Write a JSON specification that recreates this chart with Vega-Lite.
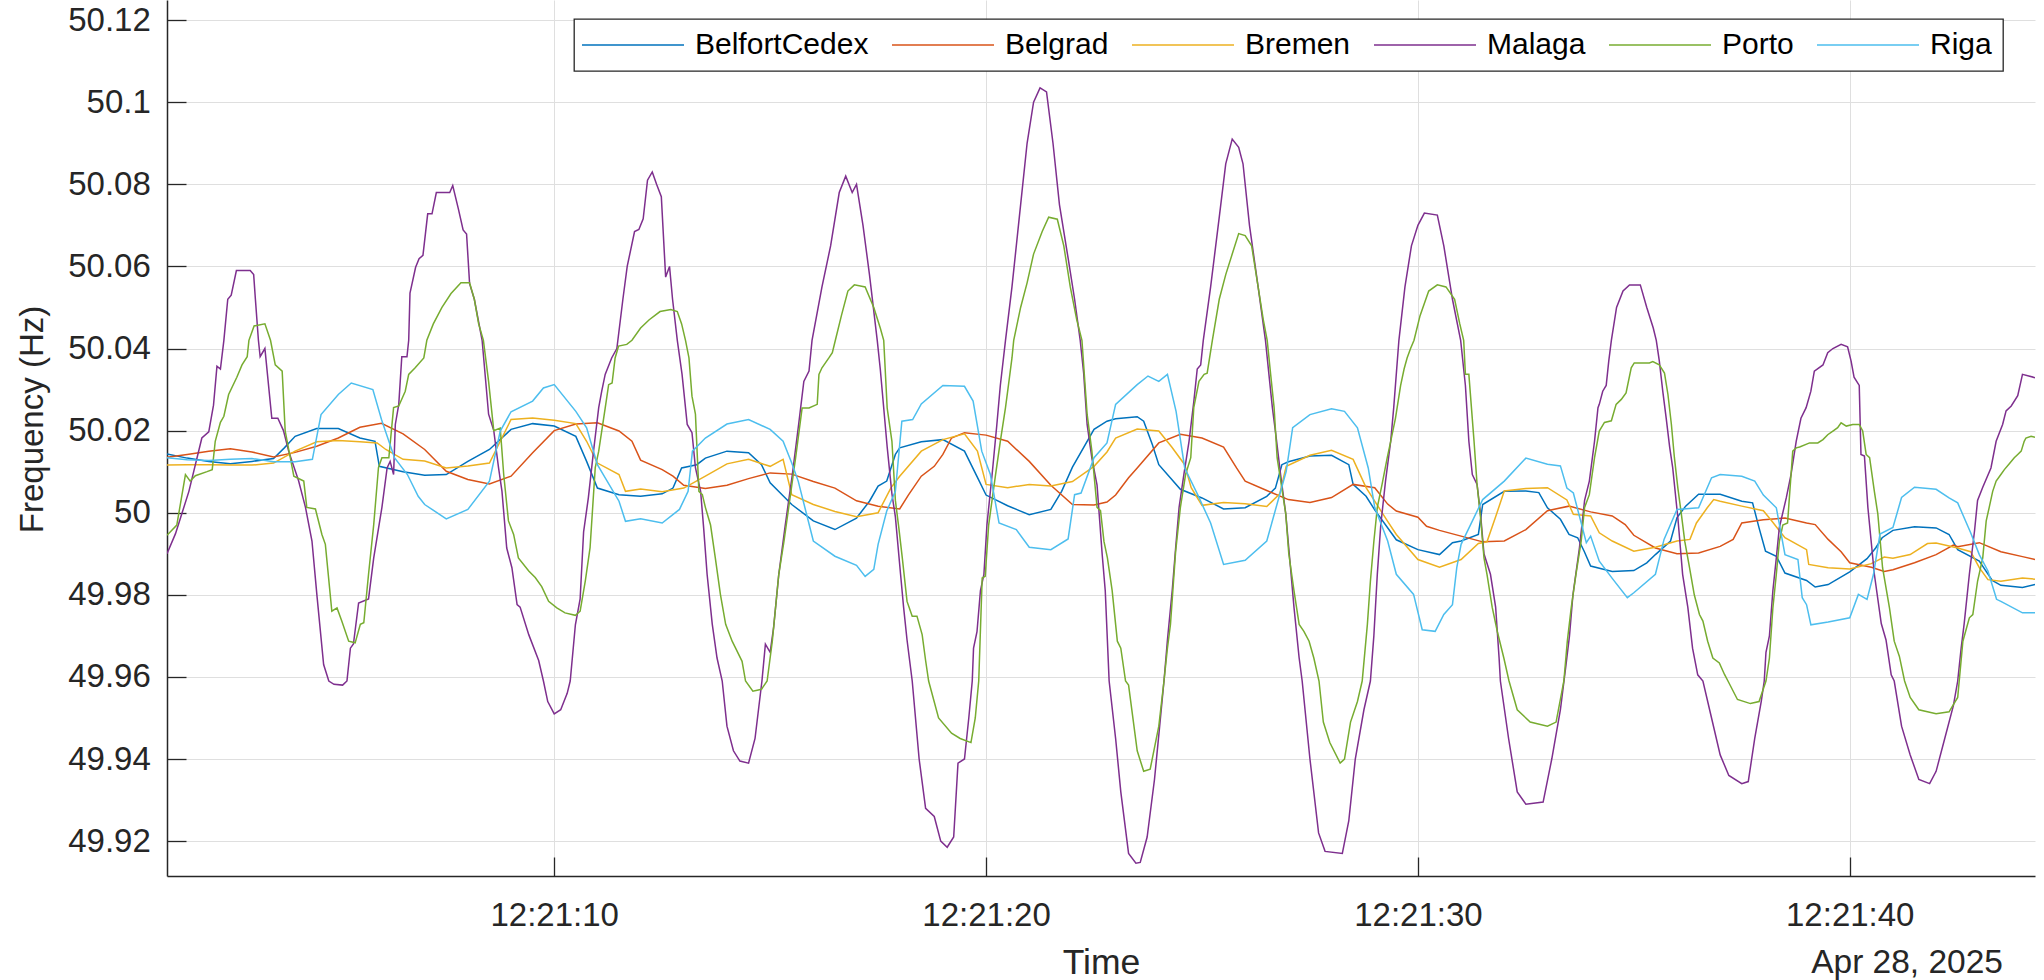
{
"$schema": "https://vega.github.io/schema/vega-lite/v6.json",
"width": 1868, "height": 876,
"autosize": {"type": "none"},
"padding": {"left": 167, "top": 0, "right": 9, "bottom": 104},
"background": "#ffffff",
"title": {"text": "Apr 28, 2025", "orient": "bottom", "anchor": "end", "frame": "group", "fontSize": 33.5, "font": "Liberation Sans", "fontWeight": "normal", "color": "#262626", "baseline": "alphabetic", "offset": -8, "dx": -32},
"data": {"values": [
{"city":"BelfortCedex","time":"2025-04-28T12:21:01.033","freq":50.0143},
{"city":"BelfortCedex","time":"2025-04-28T12:21:01.500","freq":50.0133},
{"city":"BelfortCedex","time":"2025-04-28T12:21:02.000","freq":50.0125},
{"city":"BelfortCedex","time":"2025-04-28T12:21:02.500","freq":50.0119},
{"city":"BelfortCedex","time":"2025-04-28T12:21:03.000","freq":50.0125},
{"city":"BelfortCedex","time":"2025-04-28T12:21:03.500","freq":50.0132},
{"city":"BelfortCedex","time":"2025-04-28T12:21:03.750","freq":50.0158},
{"city":"BelfortCedex","time":"2025-04-28T12:21:04.000","freq":50.0186},
{"city":"BelfortCedex","time":"2025-04-28T12:21:04.500","freq":50.0205},
{"city":"BelfortCedex","time":"2025-04-28T12:21:05.000","freq":50.0205},
{"city":"BelfortCedex","time":"2025-04-28T12:21:05.500","freq":50.0182},
{"city":"BelfortCedex","time":"2025-04-28T12:21:05.850","freq":50.0174},
{"city":"BelfortCedex","time":"2025-04-28T12:21:05.950","freq":50.0113},
{"city":"BelfortCedex","time":"2025-04-28T12:21:06.500","freq":50.0100},
{"city":"BelfortCedex","time":"2025-04-28T12:21:07.000","freq":50.0091},
{"city":"BelfortCedex","time":"2025-04-28T12:21:07.500","freq":50.0093},
{"city":"BelfortCedex","time":"2025-04-28T12:21:08.000","freq":50.0125},
{"city":"BelfortCedex","time":"2025-04-28T12:21:08.500","freq":50.0154},
{"city":"BelfortCedex","time":"2025-04-28T12:21:09.000","freq":50.0203},
{"city":"BelfortCedex","time":"2025-04-28T12:21:09.500","freq":50.0217},
{"city":"BelfortCedex","time":"2025-04-28T12:21:10.000","freq":50.0211},
{"city":"BelfortCedex","time":"2025-04-28T12:21:10.500","freq":50.0186},
{"city":"BelfortCedex","time":"2025-04-28T12:21:10.750","freq":50.0125},
{"city":"BelfortCedex","time":"2025-04-28T12:21:11.000","freq":50.0060},
{"city":"BelfortCedex","time":"2025-04-28T12:21:11.500","freq":50.0044},
{"city":"BelfortCedex","time":"2025-04-28T12:21:12.000","freq":50.0040},
{"city":"BelfortCedex","time":"2025-04-28T12:21:12.500","freq":50.0046},
{"city":"BelfortCedex","time":"2025-04-28T12:21:12.750","freq":50.0060},
{"city":"BelfortCedex","time":"2025-04-28T12:21:12.950","freq":50.0109},
{"city":"BelfortCedex","time":"2025-04-28T12:21:13.300","freq":50.0117},
{"city":"BelfortCedex","time":"2025-04-28T12:21:13.500","freq":50.0133},
{"city":"BelfortCedex","time":"2025-04-28T12:21:14.000","freq":50.0150},
{"city":"BelfortCedex","time":"2025-04-28T12:21:14.500","freq":50.0146},
{"city":"BelfortCedex","time":"2025-04-28T12:21:14.800","freq":50.0117},
{"city":"BelfortCedex","time":"2025-04-28T12:21:15.000","freq":50.0073},
{"city":"BelfortCedex","time":"2025-04-28T12:21:15.500","freq":50.0020},
{"city":"BelfortCedex","time":"2025-04-28T12:21:16.000","freq":49.9980},
{"city":"BelfortCedex","time":"2025-04-28T12:21:16.500","freq":49.9959},
{"city":"BelfortCedex","time":"2025-04-28T12:21:17.000","freq":49.9987},
{"city":"BelfortCedex","time":"2025-04-28T12:21:17.300","freq":50.0028},
{"city":"BelfortCedex","time":"2025-04-28T12:21:17.500","freq":50.0065},
{"city":"BelfortCedex","time":"2025-04-28T12:21:17.700","freq":50.0077},
{"city":"BelfortCedex","time":"2025-04-28T12:21:17.900","freq":50.0142},
{"city":"BelfortCedex","time":"2025-04-28T12:21:18.000","freq":50.0158},
{"city":"BelfortCedex","time":"2025-04-28T12:21:18.500","freq":50.0173},
{"city":"BelfortCedex","time":"2025-04-28T12:21:19.000","freq":50.0178},
{"city":"BelfortCedex","time":"2025-04-28T12:21:19.500","freq":50.0150},
{"city":"BelfortCedex","time":"2025-04-28T12:21:19.800","freq":50.0086},
{"city":"BelfortCedex","time":"2025-04-28T12:21:20.000","freq":50.0043},
{"city":"BelfortCedex","time":"2025-04-28T12:21:20.500","freq":50.0017},
{"city":"BelfortCedex","time":"2025-04-28T12:21:21.000","freq":49.9995},
{"city":"BelfortCedex","time":"2025-04-28T12:21:21.500","freq":50.0008},
{"city":"BelfortCedex","time":"2025-04-28T12:21:21.750","freq":50.0052},
{"city":"BelfortCedex","time":"2025-04-28T12:21:22.000","freq":50.0111},
{"city":"BelfortCedex","time":"2025-04-28T12:21:22.500","freq":50.0203},
{"city":"BelfortCedex","time":"2025-04-28T12:21:22.800","freq":50.0223},
{"city":"BelfortCedex","time":"2025-04-28T12:21:23.000","freq":50.0229},
{"city":"BelfortCedex","time":"2025-04-28T12:21:23.500","freq":50.0234},
{"city":"BelfortCedex","time":"2025-04-28T12:21:23.650","freq":50.0223},
{"city":"BelfortCedex","time":"2025-04-28T12:21:23.850","freq":50.0166},
{"city":"BelfortCedex","time":"2025-04-28T12:21:24.000","freq":50.0117},
{"city":"BelfortCedex","time":"2025-04-28T12:21:24.500","freq":50.0057},
{"city":"BelfortCedex","time":"2025-04-28T12:21:25.000","freq":50.0036},
{"city":"BelfortCedex","time":"2025-04-28T12:21:25.500","freq":50.0009},
{"city":"BelfortCedex","time":"2025-04-28T12:21:26.000","freq":50.0012},
{"city":"BelfortCedex","time":"2025-04-28T12:21:26.500","freq":50.0040},
{"city":"BelfortCedex","time":"2025-04-28T12:21:26.700","freq":50.0060},
{"city":"BelfortCedex","time":"2025-04-28T12:21:26.850","freq":50.0117},
{"city":"BelfortCedex","time":"2025-04-28T12:21:27.000","freq":50.0124},
{"city":"BelfortCedex","time":"2025-04-28T12:21:27.500","freq":50.0138},
{"city":"BelfortCedex","time":"2025-04-28T12:21:28.000","freq":50.0140},
{"city":"BelfortCedex","time":"2025-04-28T12:21:28.400","freq":50.0117},
{"city":"BelfortCedex","time":"2025-04-28T12:21:28.500","freq":50.0069},
{"city":"BelfortCedex","time":"2025-04-28T12:21:28.800","freq":50.0040},
{"city":"BelfortCedex","time":"2025-04-28T12:21:29.000","freq":50.0007},
{"city":"BelfortCedex","time":"2025-04-28T12:21:29.500","freq":49.9934},
{"city":"BelfortCedex","time":"2025-04-28T12:21:30.000","freq":49.9910},
{"city":"BelfortCedex","time":"2025-04-28T12:21:30.500","freq":49.9898},
{"city":"BelfortCedex","time":"2025-04-28T12:21:30.800","freq":49.9927},
{"city":"BelfortCedex","time":"2025-04-28T12:21:31.000","freq":49.9931},
{"city":"BelfortCedex","time":"2025-04-28T12:21:31.400","freq":49.9947},
{"city":"BelfortCedex","time":"2025-04-28T12:21:31.500","freq":50.0020},
{"city":"BelfortCedex","time":"2025-04-28T12:21:32.000","freq":50.0052},
{"city":"BelfortCedex","time":"2025-04-28T12:21:32.500","freq":50.0053},
{"city":"BelfortCedex","time":"2025-04-28T12:21:32.800","freq":50.0049},
{"city":"BelfortCedex","time":"2025-04-28T12:21:33.000","freq":50.0012},
{"city":"BelfortCedex","time":"2025-04-28T12:21:33.300","freq":49.9984},
{"city":"BelfortCedex","time":"2025-04-28T12:21:33.500","freq":49.9947},
{"city":"BelfortCedex","time":"2025-04-28T12:21:33.700","freq":49.9939},
{"city":"BelfortCedex","time":"2025-04-28T12:21:33.850","freq":49.9906},
{"city":"BelfortCedex","time":"2025-04-28T12:21:34.000","freq":49.9870},
{"city":"BelfortCedex","time":"2025-04-28T12:21:34.500","freq":49.9857},
{"city":"BelfortCedex","time":"2025-04-28T12:21:35.000","freq":49.9859},
{"city":"BelfortCedex","time":"2025-04-28T12:21:35.300","freq":49.9878},
{"city":"BelfortCedex","time":"2025-04-28T12:21:35.500","freq":49.9898},
{"city":"BelfortCedex","time":"2025-04-28T12:21:35.850","freq":49.9931},
{"city":"BelfortCedex","time":"2025-04-28T12:21:36.000","freq":49.9988},
{"city":"BelfortCedex","time":"2025-04-28T12:21:36.200","freq":50.0016},
{"city":"BelfortCedex","time":"2025-04-28T12:21:36.500","freq":50.0045},
{"city":"BelfortCedex","time":"2025-04-28T12:21:37.000","freq":50.0045},
{"city":"BelfortCedex","time":"2025-04-28T12:21:37.500","freq":50.0028},
{"city":"BelfortCedex","time":"2025-04-28T12:21:37.750","freq":50.0024},
{"city":"BelfortCedex","time":"2025-04-28T12:21:37.900","freq":49.9963},
{"city":"BelfortCedex","time":"2025-04-28T12:21:38.050","freq":49.9906},
{"city":"BelfortCedex","time":"2025-04-28T12:21:38.300","freq":49.9894},
{"city":"BelfortCedex","time":"2025-04-28T12:21:38.500","freq":49.9853},
{"city":"BelfortCedex","time":"2025-04-28T12:21:39.000","freq":49.9835},
{"city":"BelfortCedex","time":"2025-04-28T12:21:39.200","freq":49.9819},
{"city":"BelfortCedex","time":"2025-04-28T12:21:39.500","freq":49.9825},
{"city":"BelfortCedex","time":"2025-04-28T12:21:40.000","freq":49.9856},
{"city":"BelfortCedex","time":"2025-04-28T12:21:40.400","freq":49.9888},
{"city":"BelfortCedex","time":"2025-04-28T12:21:40.600","freq":49.9914},
{"city":"BelfortCedex","time":"2025-04-28T12:21:40.750","freq":49.9939},
{"city":"BelfortCedex","time":"2025-04-28T12:21:41.000","freq":49.9957},
{"city":"BelfortCedex","time":"2025-04-28T12:21:41.500","freq":49.9966},
{"city":"BelfortCedex","time":"2025-04-28T12:21:42.000","freq":49.9963},
{"city":"BelfortCedex","time":"2025-04-28T12:21:42.300","freq":49.9947},
{"city":"BelfortCedex","time":"2025-04-28T12:21:42.500","freq":49.9910},
{"city":"BelfortCedex","time":"2025-04-28T12:21:43.000","freq":49.9882},
{"city":"BelfortCedex","time":"2025-04-28T12:21:43.300","freq":49.9835},
{"city":"BelfortCedex","time":"2025-04-28T12:21:43.500","freq":49.9823},
{"city":"BelfortCedex","time":"2025-04-28T12:21:44.000","freq":49.9818},
{"city":"BelfortCedex","time":"2025-04-28T12:21:44.290","freq":49.9825},
{"city":"Belgrad","time":"2025-04-28T12:21:01.033","freq":50.0135},
{"city":"Belgrad","time":"2025-04-28T12:21:01.500","freq":50.0142},
{"city":"Belgrad","time":"2025-04-28T12:21:02.000","freq":50.0150},
{"city":"Belgrad","time":"2025-04-28T12:21:02.500","freq":50.0156},
{"city":"Belgrad","time":"2025-04-28T12:21:03.000","freq":50.0148},
{"city":"Belgrad","time":"2025-04-28T12:21:03.500","freq":50.0136},
{"city":"Belgrad","time":"2025-04-28T12:21:04.000","freq":50.0147},
{"city":"Belgrad","time":"2025-04-28T12:21:04.500","freq":50.0162},
{"city":"Belgrad","time":"2025-04-28T12:21:05.000","freq":50.0182},
{"city":"Belgrad","time":"2025-04-28T12:21:05.500","freq":50.0208},
{"city":"Belgrad","time":"2025-04-28T12:21:06.000","freq":50.0218},
{"city":"Belgrad","time":"2025-04-28T12:21:06.500","freq":50.0192},
{"city":"Belgrad","time":"2025-04-28T12:21:07.000","freq":50.0154},
{"city":"Belgrad","time":"2025-04-28T12:21:07.500","freq":50.0101},
{"city":"Belgrad","time":"2025-04-28T12:21:08.000","freq":50.0081},
{"city":"Belgrad","time":"2025-04-28T12:21:08.500","freq":50.0070},
{"city":"Belgrad","time":"2025-04-28T12:21:09.000","freq":50.0089},
{"city":"Belgrad","time":"2025-04-28T12:21:09.500","freq":50.0146},
{"city":"Belgrad","time":"2025-04-28T12:21:10.000","freq":50.0200},
{"city":"Belgrad","time":"2025-04-28T12:21:10.500","freq":50.0216},
{"city":"Belgrad","time":"2025-04-28T12:21:11.000","freq":50.0219},
{"city":"Belgrad","time":"2025-04-28T12:21:11.500","freq":50.0199},
{"city":"Belgrad","time":"2025-04-28T12:21:11.800","freq":50.0174},
{"city":"Belgrad","time":"2025-04-28T12:21:12.000","freq":50.0128},
{"city":"Belgrad","time":"2025-04-28T12:21:12.500","freq":50.0105},
{"city":"Belgrad","time":"2025-04-28T12:21:12.750","freq":50.0089},
{"city":"Belgrad","time":"2025-04-28T12:21:13.000","freq":50.0067},
{"city":"Belgrad","time":"2025-04-28T12:21:13.500","freq":50.0059},
{"city":"Belgrad","time":"2025-04-28T12:21:14.000","freq":50.0067},
{"city":"Belgrad","time":"2025-04-28T12:21:14.500","freq":50.0083},
{"city":"Belgrad","time":"2025-04-28T12:21:15.000","freq":50.0097},
{"city":"Belgrad","time":"2025-04-28T12:21:15.500","freq":50.0094},
{"city":"Belgrad","time":"2025-04-28T12:21:16.000","freq":50.0076},
{"city":"Belgrad","time":"2025-04-28T12:21:16.500","freq":50.0060},
{"city":"Belgrad","time":"2025-04-28T12:21:17.000","freq":50.0029},
{"city":"Belgrad","time":"2025-04-28T12:21:17.500","freq":50.0016},
{"city":"Belgrad","time":"2025-04-28T12:21:18.000","freq":50.0009},
{"city":"Belgrad","time":"2025-04-28T12:21:18.200","freq":50.0043},
{"city":"Belgrad","time":"2025-04-28T12:21:18.500","freq":50.0089},
{"city":"Belgrad","time":"2025-04-28T12:21:18.800","freq":50.0113},
{"city":"Belgrad","time":"2025-04-28T12:21:19.000","freq":50.0142},
{"city":"Belgrad","time":"2025-04-28T12:21:19.200","freq":50.0182},
{"city":"Belgrad","time":"2025-04-28T12:21:19.500","freq":50.0195},
{"city":"Belgrad","time":"2025-04-28T12:21:20.000","freq":50.0189},
{"city":"Belgrad","time":"2025-04-28T12:21:20.500","freq":50.0174},
{"city":"Belgrad","time":"2025-04-28T12:21:21.000","freq":50.0125},
{"city":"Belgrad","time":"2025-04-28T12:21:21.500","freq":50.0067},
{"city":"Belgrad","time":"2025-04-28T12:21:22.000","freq":50.0020},
{"city":"Belgrad","time":"2025-04-28T12:21:22.500","freq":50.0019},
{"city":"Belgrad","time":"2025-04-28T12:21:22.800","freq":50.0026},
{"city":"Belgrad","time":"2025-04-28T12:21:23.000","freq":50.0043},
{"city":"Belgrad","time":"2025-04-28T12:21:23.300","freq":50.0085},
{"city":"Belgrad","time":"2025-04-28T12:21:23.500","freq":50.0109},
{"city":"Belgrad","time":"2025-04-28T12:21:24.000","freq":50.0170},
{"city":"Belgrad","time":"2025-04-28T12:21:24.500","freq":50.0191},
{"city":"Belgrad","time":"2025-04-28T12:21:25.000","freq":50.0182},
{"city":"Belgrad","time":"2025-04-28T12:21:25.500","freq":50.0160},
{"city":"Belgrad","time":"2025-04-28T12:21:25.800","freq":50.0109},
{"city":"Belgrad","time":"2025-04-28T12:21:26.000","freq":50.0077},
{"city":"Belgrad","time":"2025-04-28T12:21:26.500","freq":50.0054},
{"city":"Belgrad","time":"2025-04-28T12:21:27.000","freq":50.0032},
{"city":"Belgrad","time":"2025-04-28T12:21:27.500","freq":50.0025},
{"city":"Belgrad","time":"2025-04-28T12:21:28.000","freq":50.0037},
{"city":"Belgrad","time":"2025-04-28T12:21:28.500","freq":50.0069},
{"city":"Belgrad","time":"2025-04-28T12:21:29.000","freq":50.0061},
{"city":"Belgrad","time":"2025-04-28T12:21:29.300","freq":50.0021},
{"city":"Belgrad","time":"2025-04-28T12:21:29.500","freq":50.0004},
{"city":"Belgrad","time":"2025-04-28T12:21:30.000","freq":49.9989},
{"city":"Belgrad","time":"2025-04-28T12:21:30.200","freq":49.9967},
{"city":"Belgrad","time":"2025-04-28T12:21:30.500","freq":49.9957},
{"city":"Belgrad","time":"2025-04-28T12:21:31.000","freq":49.9943},
{"city":"Belgrad","time":"2025-04-28T12:21:31.500","freq":49.9929},
{"city":"Belgrad","time":"2025-04-28T12:21:32.000","freq":49.9931},
{"city":"Belgrad","time":"2025-04-28T12:21:32.500","freq":49.9959},
{"city":"Belgrad","time":"2025-04-28T12:21:33.000","freq":50.0005},
{"city":"Belgrad","time":"2025-04-28T12:21:33.500","freq":50.0016},
{"city":"Belgrad","time":"2025-04-28T12:21:34.000","freq":50.0002},
{"city":"Belgrad","time":"2025-04-28T12:21:34.500","freq":49.9992},
{"city":"Belgrad","time":"2025-04-28T12:21:34.800","freq":49.9971},
{"city":"Belgrad","time":"2025-04-28T12:21:35.000","freq":49.9945},
{"city":"Belgrad","time":"2025-04-28T12:21:35.500","freq":49.9914},
{"city":"Belgrad","time":"2025-04-28T12:21:36.000","freq":49.9900},
{"city":"Belgrad","time":"2025-04-28T12:21:36.500","freq":49.9902},
{"city":"Belgrad","time":"2025-04-28T12:21:37.000","freq":49.9918},
{"city":"Belgrad","time":"2025-04-28T12:21:37.300","freq":49.9935},
{"city":"Belgrad","time":"2025-04-28T12:21:37.500","freq":49.9975},
{"city":"Belgrad","time":"2025-04-28T12:21:38.000","freq":49.9983},
{"city":"Belgrad","time":"2025-04-28T12:21:38.500","freq":49.9987},
{"city":"Belgrad","time":"2025-04-28T12:21:39.000","freq":49.9975},
{"city":"Belgrad","time":"2025-04-28T12:21:39.200","freq":49.9971},
{"city":"Belgrad","time":"2025-04-28T12:21:39.500","freq":49.9935},
{"city":"Belgrad","time":"2025-04-28T12:21:39.800","freq":49.9905},
{"city":"Belgrad","time":"2025-04-28T12:21:40.000","freq":49.9878},
{"city":"Belgrad","time":"2025-04-28T12:21:40.500","freq":49.9867},
{"city":"Belgrad","time":"2025-04-28T12:21:40.800","freq":49.9857},
{"city":"Belgrad","time":"2025-04-28T12:21:41.000","freq":49.9861},
{"city":"Belgrad","time":"2025-04-28T12:21:41.500","freq":49.9878},
{"city":"Belgrad","time":"2025-04-28T12:21:42.000","freq":49.9898},
{"city":"Belgrad","time":"2025-04-28T12:21:42.400","freq":49.9921},
{"city":"Belgrad","time":"2025-04-28T12:21:42.500","freq":49.9917},
{"city":"Belgrad","time":"2025-04-28T12:21:43.000","freq":49.9927},
{"city":"Belgrad","time":"2025-04-28T12:21:43.500","freq":49.9905},
{"city":"Belgrad","time":"2025-04-28T12:21:44.000","freq":49.9893},
{"city":"Belgrad","time":"2025-04-28T12:21:44.290","freq":49.9886},
{"city":"Bremen","time":"2025-04-28T12:21:01.033","freq":50.0116},
{"city":"Bremen","time":"2025-04-28T12:21:01.500","freq":50.0117},
{"city":"Bremen","time":"2025-04-28T12:21:02.000","freq":50.0117},
{"city":"Bremen","time":"2025-04-28T12:21:02.500","freq":50.0116},
{"city":"Bremen","time":"2025-04-28T12:21:03.000","freq":50.0116},
{"city":"Bremen","time":"2025-04-28T12:21:03.500","freq":50.0121},
{"city":"Bremen","time":"2025-04-28T12:21:04.000","freq":50.0150},
{"city":"Bremen","time":"2025-04-28T12:21:04.500","freq":50.0173},
{"city":"Bremen","time":"2025-04-28T12:21:05.000","freq":50.0176},
{"city":"Bremen","time":"2025-04-28T12:21:05.500","freq":50.0173},
{"city":"Bremen","time":"2025-04-28T12:21:05.900","freq":50.0170},
{"city":"Bremen","time":"2025-04-28T12:21:06.100","freq":50.0154},
{"city":"Bremen","time":"2025-04-28T12:21:06.500","freq":50.0130},
{"city":"Bremen","time":"2025-04-28T12:21:07.000","freq":50.0126},
{"city":"Bremen","time":"2025-04-28T12:21:07.500","freq":50.0109},
{"city":"Bremen","time":"2025-04-28T12:21:08.000","freq":50.0114},
{"city":"Bremen","time":"2025-04-28T12:21:08.500","freq":50.0121},
{"city":"Bremen","time":"2025-04-28T12:21:08.750","freq":50.0174},
{"city":"Bremen","time":"2025-04-28T12:21:09.000","freq":50.0227},
{"city":"Bremen","time":"2025-04-28T12:21:09.500","freq":50.0231},
{"city":"Bremen","time":"2025-04-28T12:21:10.000","freq":50.0225},
{"city":"Bremen","time":"2025-04-28T12:21:10.500","freq":50.0217},
{"city":"Bremen","time":"2025-04-28T12:21:10.750","freq":50.0174},
{"city":"Bremen","time":"2025-04-28T12:21:11.000","freq":50.0121},
{"city":"Bremen","time":"2025-04-28T12:21:11.500","freq":50.0093},
{"city":"Bremen","time":"2025-04-28T12:21:11.650","freq":50.0052},
{"city":"Bremen","time":"2025-04-28T12:21:12.000","freq":50.0058},
{"city":"Bremen","time":"2025-04-28T12:21:12.500","freq":50.0051},
{"city":"Bremen","time":"2025-04-28T12:21:13.000","freq":50.0060},
{"city":"Bremen","time":"2025-04-28T12:21:13.500","freq":50.0089},
{"city":"Bremen","time":"2025-04-28T12:21:14.000","freq":50.0119},
{"city":"Bremen","time":"2025-04-28T12:21:14.500","freq":50.0130},
{"city":"Bremen","time":"2025-04-28T12:21:15.000","freq":50.0113},
{"city":"Bremen","time":"2025-04-28T12:21:15.300","freq":50.0130},
{"city":"Bremen","time":"2025-04-28T12:21:15.500","freq":50.0044},
{"city":"Bremen","time":"2025-04-28T12:21:16.000","freq":50.0020},
{"city":"Bremen","time":"2025-04-28T12:21:16.500","freq":50.0003},
{"city":"Bremen","time":"2025-04-28T12:21:17.000","freq":49.9990},
{"city":"Bremen","time":"2025-04-28T12:21:17.500","freq":50.0000},
{"city":"Bremen","time":"2025-04-28T12:21:17.800","freq":50.0061},
{"city":"Bremen","time":"2025-04-28T12:21:18.000","freq":50.0089},
{"city":"Bremen","time":"2025-04-28T12:21:18.500","freq":50.0150},
{"city":"Bremen","time":"2025-04-28T12:21:19.000","freq":50.0178},
{"city":"Bremen","time":"2025-04-28T12:21:19.500","freq":50.0192},
{"city":"Bremen","time":"2025-04-28T12:21:19.800","freq":50.0150},
{"city":"Bremen","time":"2025-04-28T12:21:20.000","freq":50.0069},
{"city":"Bremen","time":"2025-04-28T12:21:20.500","freq":50.0061},
{"city":"Bremen","time":"2025-04-28T12:21:21.000","freq":50.0069},
{"city":"Bremen","time":"2025-04-28T12:21:21.500","freq":50.0065},
{"city":"Bremen","time":"2025-04-28T12:21:22.000","freq":50.0076},
{"city":"Bremen","time":"2025-04-28T12:21:22.500","freq":50.0113},
{"city":"Bremen","time":"2025-04-28T12:21:22.800","freq":50.0148},
{"city":"Bremen","time":"2025-04-28T12:21:23.000","freq":50.0182},
{"city":"Bremen","time":"2025-04-28T12:21:23.500","freq":50.0204},
{"city":"Bremen","time":"2025-04-28T12:21:24.000","freq":50.0199},
{"city":"Bremen","time":"2025-04-28T12:21:24.300","freq":50.0160},
{"city":"Bremen","time":"2025-04-28T12:21:24.600","freq":50.0117},
{"city":"Bremen","time":"2025-04-28T12:21:24.750","freq":50.0061},
{"city":"Bremen","time":"2025-04-28T12:21:25.000","freq":50.0018},
{"city":"Bremen","time":"2025-04-28T12:21:25.500","freq":50.0025},
{"city":"Bremen","time":"2025-04-28T12:21:26.000","freq":50.0022},
{"city":"Bremen","time":"2025-04-28T12:21:26.500","freq":50.0015},
{"city":"Bremen","time":"2025-04-28T12:21:26.800","freq":50.0046},
{"city":"Bremen","time":"2025-04-28T12:21:26.950","freq":50.0113},
{"city":"Bremen","time":"2025-04-28T12:21:27.500","freq":50.0140},
{"city":"Bremen","time":"2025-04-28T12:21:28.000","freq":50.0152},
{"city":"Bremen","time":"2025-04-28T12:21:28.500","freq":50.0130},
{"city":"Bremen","time":"2025-04-28T12:21:28.800","freq":50.0061},
{"city":"Bremen","time":"2025-04-28T12:21:29.000","freq":50.0028},
{"city":"Bremen","time":"2025-04-28T12:21:29.300","freq":49.9979},
{"city":"Bremen","time":"2025-04-28T12:21:29.500","freq":49.9947},
{"city":"Bremen","time":"2025-04-28T12:21:30.000","freq":49.9886},
{"city":"Bremen","time":"2025-04-28T12:21:30.500","freq":49.9867},
{"city":"Bremen","time":"2025-04-28T12:21:31.000","freq":49.9886},
{"city":"Bremen","time":"2025-04-28T12:21:31.400","freq":49.9925},
{"city":"Bremen","time":"2025-04-28T12:21:31.600","freq":49.9929},
{"city":"Bremen","time":"2025-04-28T12:21:31.800","freq":49.9990},
{"city":"Bremen","time":"2025-04-28T12:21:32.000","freq":50.0053},
{"city":"Bremen","time":"2025-04-28T12:21:32.500","freq":50.0059},
{"city":"Bremen","time":"2025-04-28T12:21:33.000","freq":50.0061},
{"city":"Bremen","time":"2025-04-28T12:21:33.450","freq":50.0031},
{"city":"Bremen","time":"2025-04-28T12:21:33.600","freq":49.9996},
{"city":"Bremen","time":"2025-04-28T12:21:34.000","freq":49.9992},
{"city":"Bremen","time":"2025-04-28T12:21:34.200","freq":49.9951},
{"city":"Bremen","time":"2025-04-28T12:21:34.500","freq":49.9931},
{"city":"Bremen","time":"2025-04-28T12:21:35.000","freq":49.9906},
{"city":"Bremen","time":"2025-04-28T12:21:35.500","freq":49.9916},
{"city":"Bremen","time":"2025-04-28T12:21:36.000","freq":49.9931},
{"city":"Bremen","time":"2025-04-28T12:21:36.300","freq":49.9935},
{"city":"Bremen","time":"2025-04-28T12:21:36.450","freq":49.9975},
{"city":"Bremen","time":"2025-04-28T12:21:36.700","freq":50.0012},
{"city":"Bremen","time":"2025-04-28T12:21:36.850","freq":50.0032},
{"city":"Bremen","time":"2025-04-28T12:21:37.000","freq":50.0028},
{"city":"Bremen","time":"2025-04-28T12:21:37.500","freq":50.0016},
{"city":"Bremen","time":"2025-04-28T12:21:38.000","freq":50.0005},
{"city":"Bremen","time":"2025-04-28T12:21:38.200","freq":49.9979},
{"city":"Bremen","time":"2025-04-28T12:21:38.500","freq":49.9939},
{"city":"Bremen","time":"2025-04-28T12:21:39.000","freq":49.9910},
{"city":"Bremen","time":"2025-04-28T12:21:39.050","freq":49.9874},
{"city":"Bremen","time":"2025-04-28T12:21:39.500","freq":49.9866},
{"city":"Bremen","time":"2025-04-28T12:21:40.000","freq":49.9863},
{"city":"Bremen","time":"2025-04-28T12:21:40.500","freq":49.9876},
{"city":"Bremen","time":"2025-04-28T12:21:40.800","freq":49.9892},
{"city":"Bremen","time":"2025-04-28T12:21:41.000","freq":49.9889},
{"city":"Bremen","time":"2025-04-28T12:21:41.400","freq":49.9898},
{"city":"Bremen","time":"2025-04-28T12:21:41.800","freq":49.9925},
{"city":"Bremen","time":"2025-04-28T12:21:42.000","freq":49.9926},
{"city":"Bremen","time":"2025-04-28T12:21:42.500","freq":49.9914},
{"city":"Bremen","time":"2025-04-28T12:21:42.800","freq":49.9905},
{"city":"Bremen","time":"2025-04-28T12:21:43.000","freq":49.9866},
{"city":"Bremen","time":"2025-04-28T12:21:43.200","freq":49.9837},
{"city":"Bremen","time":"2025-04-28T12:21:43.500","freq":49.9833},
{"city":"Bremen","time":"2025-04-28T12:21:44.000","freq":49.9841},
{"city":"Bremen","time":"2025-04-28T12:21:44.290","freq":49.9838},
{"city":"Malaga","time":"2025-04-28T12:21:01.033","freq":49.9900},
{"city":"Malaga","time":"2025-04-28T12:21:01.230","freq":49.9949},
{"city":"Malaga","time":"2025-04-28T12:21:01.540","freq":50.0052},
{"city":"Malaga","time":"2025-04-28T12:21:01.840","freq":50.0182},
{"city":"Malaga","time":"2025-04-28T12:21:02.000","freq":50.0197},
{"city":"Malaga","time":"2025-04-28T12:21:02.110","freq":50.0262},
{"city":"Malaga","time":"2025-04-28T12:21:02.190","freq":50.0357},
{"city":"Malaga","time":"2025-04-28T12:21:02.270","freq":50.0350},
{"city":"Malaga","time":"2025-04-28T12:21:02.350","freq":50.0420},
{"city":"Malaga","time":"2025-04-28T12:21:02.440","freq":50.0520},
{"city":"Malaga","time":"2025-04-28T12:21:02.520","freq":50.0530},
{"city":"Malaga","time":"2025-04-28T12:21:02.640","freq":50.0590},
{"city":"Malaga","time":"2025-04-28T12:21:02.960","freq":50.0590},
{"city":"Malaga","time":"2025-04-28T12:21:03.040","freq":50.0580},
{"city":"Malaga","time":"2025-04-28T12:21:03.080","freq":50.0520},
{"city":"Malaga","time":"2025-04-28T12:21:03.150","freq":50.0420},
{"city":"Malaga","time":"2025-04-28T12:21:03.190","freq":50.0380},
{"city":"Malaga","time":"2025-04-28T12:21:03.300","freq":50.0400},
{"city":"Malaga","time":"2025-04-28T12:21:03.460","freq":50.0230},
{"city":"Malaga","time":"2025-04-28T12:21:03.600","freq":50.0230},
{"city":"Malaga","time":"2025-04-28T12:21:03.730","freq":50.0200},
{"city":"Malaga","time":"2025-04-28T12:21:03.850","freq":50.0150},
{"city":"Malaga","time":"2025-04-28T12:21:04.080","freq":50.0078},
{"city":"Malaga","time":"2025-04-28T12:21:04.240","freq":50.0013},
{"city":"Malaga","time":"2025-04-28T12:21:04.390","freq":49.9931},
{"city":"Malaga","time":"2025-04-28T12:21:04.510","freq":49.9793},
{"city":"Malaga","time":"2025-04-28T12:21:04.660","freq":49.9630},
{"city":"Malaga","time":"2025-04-28T12:21:04.780","freq":49.9590},
{"city":"Malaga","time":"2025-04-28T12:21:04.900","freq":49.9582},
{"city":"Malaga","time":"2025-04-28T12:21:05.100","freq":49.9580},
{"city":"Malaga","time":"2025-04-28T12:21:05.200","freq":49.9590},
{"city":"Malaga","time":"2025-04-28T12:21:05.280","freq":49.9670},
{"city":"Malaga","time":"2025-04-28T12:21:05.350","freq":49.9680},
{"city":"Malaga","time":"2025-04-28T12:21:05.470","freq":49.9780},
{"city":"Malaga","time":"2025-04-28T12:21:05.700","freq":49.9790},
{"city":"Malaga","time":"2025-04-28T12:21:05.820","freq":49.9890},
{"city":"Malaga","time":"2025-04-28T12:21:06.010","freq":50.0013},
{"city":"Malaga","time":"2025-04-28T12:21:06.130","freq":50.0109},
{"city":"Malaga","time":"2025-04-28T12:21:06.200","freq":50.0125},
{"city":"Malaga","time":"2025-04-28T12:21:06.280","freq":50.0093},
{"city":"Malaga","time":"2025-04-28T12:21:06.320","freq":50.0215},
{"city":"Malaga","time":"2025-04-28T12:21:06.400","freq":50.0264},
{"city":"Malaga","time":"2025-04-28T12:21:06.470","freq":50.0380},
{"city":"Malaga","time":"2025-04-28T12:21:06.590","freq":50.0380},
{"city":"Malaga","time":"2025-04-28T12:21:06.630","freq":50.0420},
{"city":"Malaga","time":"2025-04-28T12:21:06.660","freq":50.0535},
{"city":"Malaga","time":"2025-04-28T12:21:06.790","freq":50.0598},
{"city":"Malaga","time":"2025-04-28T12:21:06.870","freq":50.0619},
{"city":"Malaga","time":"2025-04-28T12:21:06.960","freq":50.0627},
{"city":"Malaga","time":"2025-04-28T12:21:07.070","freq":50.0728},
{"city":"Malaga","time":"2025-04-28T12:21:07.170","freq":50.0728},
{"city":"Malaga","time":"2025-04-28T12:21:07.270","freq":50.0780},
{"city":"Malaga","time":"2025-04-28T12:21:07.580","freq":50.0780},
{"city":"Malaga","time":"2025-04-28T12:21:07.650","freq":50.0797},
{"city":"Malaga","time":"2025-04-28T12:21:07.780","freq":50.0740},
{"city":"Malaga","time":"2025-04-28T12:21:07.890","freq":50.0689},
{"city":"Malaga","time":"2025-04-28T12:21:07.970","freq":50.0679},
{"city":"Malaga","time":"2025-04-28T12:21:08.040","freq":50.0558},
{"city":"Malaga","time":"2025-04-28T12:21:08.150","freq":50.0520},
{"city":"Malaga","time":"2025-04-28T12:21:08.330","freq":50.0420},
{"city":"Malaga","time":"2025-04-28T12:21:08.480","freq":50.0240},
{"city":"Malaga","time":"2025-04-28T12:21:08.600","freq":50.0200},
{"city":"Malaga","time":"2025-04-28T12:21:08.710","freq":50.0110},
{"city":"Malaga","time":"2025-04-28T12:21:08.790","freq":50.0052},
{"city":"Malaga","time":"2025-04-28T12:21:08.900","freq":49.9914},
{"city":"Malaga","time":"2025-04-28T12:21:09.020","freq":49.9866},
{"city":"Malaga","time":"2025-04-28T12:21:09.140","freq":49.9776},
{"city":"Malaga","time":"2025-04-28T12:21:09.210","freq":49.9770},
{"city":"Malaga","time":"2025-04-28T12:21:09.410","freq":49.9703},
{"city":"Malaga","time":"2025-04-28T12:21:09.640","freq":49.9640},
{"city":"Malaga","time":"2025-04-28T12:21:09.750","freq":49.9590},
{"city":"Malaga","time":"2025-04-28T12:21:09.850","freq":49.9540},
{"city":"Malaga","time":"2025-04-28T12:21:10.000","freq":49.9510},
{"city":"Malaga","time":"2025-04-28T12:21:10.150","freq":49.9520},
{"city":"Malaga","time":"2025-04-28T12:21:10.300","freq":49.9560},
{"city":"Malaga","time":"2025-04-28T12:21:10.370","freq":49.9590},
{"city":"Malaga","time":"2025-04-28T12:21:10.490","freq":49.9727},
{"city":"Malaga","time":"2025-04-28T12:21:10.600","freq":49.9790},
{"city":"Malaga","time":"2025-04-28T12:21:10.680","freq":49.9953},
{"city":"Malaga","time":"2025-04-28T12:21:10.790","freq":50.0036},
{"city":"Malaga","time":"2025-04-28T12:21:10.910","freq":50.0150},
{"city":"Malaga","time":"2025-04-28T12:21:11.030","freq":50.0256},
{"city":"Malaga","time":"2025-04-28T12:21:11.100","freq":50.0296},
{"city":"Malaga","time":"2025-04-28T12:21:11.180","freq":50.0337},
{"city":"Malaga","time":"2025-04-28T12:21:11.330","freq":50.0377},
{"city":"Malaga","time":"2025-04-28T12:21:11.450","freq":50.0400},
{"city":"Malaga","time":"2025-04-28T12:21:11.590","freq":50.0520},
{"city":"Malaga","time":"2025-04-28T12:21:11.690","freq":50.0600},
{"city":"Malaga","time":"2025-04-28T12:21:11.860","freq":50.0685},
{"city":"Malaga","time":"2025-04-28T12:21:11.960","freq":50.0690},
{"city":"Malaga","time":"2025-04-28T12:21:12.060","freq":50.0716},
{"city":"Malaga","time":"2025-04-28T12:21:12.160","freq":50.0810},
{"city":"Malaga","time":"2025-04-28T12:21:12.270","freq":50.0830},
{"city":"Malaga","time":"2025-04-28T12:21:12.370","freq":50.0800},
{"city":"Malaga","time":"2025-04-28T12:21:12.480","freq":50.0770},
{"city":"Malaga","time":"2025-04-28T12:21:12.580","freq":50.0574},
{"city":"Malaga","time":"2025-04-28T12:21:12.670","freq":50.0600},
{"city":"Malaga","time":"2025-04-28T12:21:12.740","freq":50.0520},
{"city":"Malaga","time":"2025-04-28T12:21:12.850","freq":50.0420},
{"city":"Malaga","time":"2025-04-28T12:21:12.960","freq":50.0337},
{"city":"Malaga","time":"2025-04-28T12:21:13.080","freq":50.0215},
{"city":"Malaga","time":"2025-04-28T12:21:13.190","freq":50.0195},
{"city":"Malaga","time":"2025-04-28T12:21:13.270","freq":50.0110},
{"city":"Malaga","time":"2025-04-28T12:21:13.390","freq":50.0052},
{"city":"Malaga","time":"2025-04-28T12:21:13.460","freq":49.9963},
{"city":"Malaga","time":"2025-04-28T12:21:13.540","freq":49.9850},
{"city":"Malaga","time":"2025-04-28T12:21:13.660","freq":49.9728},
{"city":"Malaga","time":"2025-04-28T12:21:13.770","freq":49.9646},
{"city":"Malaga","time":"2025-04-28T12:21:13.890","freq":49.9590},
{"city":"Malaga","time":"2025-04-28T12:21:14.000","freq":49.9480},
{"city":"Malaga","time":"2025-04-28T12:21:14.150","freq":49.9420},
{"city":"Malaga","time":"2025-04-28T12:21:14.300","freq":49.9395},
{"city":"Malaga","time":"2025-04-28T12:21:14.500","freq":49.9390},
{"city":"Malaga","time":"2025-04-28T12:21:14.650","freq":49.9450},
{"city":"Malaga","time":"2025-04-28T12:21:14.810","freq":49.9590},
{"city":"Malaga","time":"2025-04-28T12:21:14.890","freq":49.9680},
{"city":"Malaga","time":"2025-04-28T12:21:15.000","freq":49.9660},
{"city":"Malaga","time":"2025-04-28T12:21:15.080","freq":49.9720},
{"city":"Malaga","time":"2025-04-28T12:21:15.200","freq":49.9850},
{"city":"Malaga","time":"2025-04-28T12:21:15.350","freq":49.9970},
{"city":"Malaga","time":"2025-04-28T12:21:15.510","freq":50.0090},
{"city":"Malaga","time":"2025-04-28T12:21:15.660","freq":50.0215},
{"city":"Malaga","time":"2025-04-28T12:21:15.780","freq":50.0320},
{"city":"Malaga","time":"2025-04-28T12:21:15.900","freq":50.0345},
{"city":"Malaga","time":"2025-04-28T12:21:15.970","freq":50.0420},
{"city":"Malaga","time":"2025-04-28T12:21:16.200","freq":50.0550},
{"city":"Malaga","time":"2025-04-28T12:21:16.400","freq":50.0650},
{"city":"Malaga","time":"2025-04-28T12:21:16.600","freq":50.0780},
{"city":"Malaga","time":"2025-04-28T12:21:16.750","freq":50.0820},
{"city":"Malaga","time":"2025-04-28T12:21:16.900","freq":50.0780},
{"city":"Malaga","time":"2025-04-28T12:21:17.000","freq":50.0800},
{"city":"Malaga","time":"2025-04-28T12:21:17.150","freq":50.0700},
{"city":"Malaga","time":"2025-04-28T12:21:17.300","freq":50.0580},
{"city":"Malaga","time":"2025-04-28T12:21:17.480","freq":50.0420},
{"city":"Malaga","time":"2025-04-28T12:21:17.550","freq":50.0350},
{"city":"Malaga","time":"2025-04-28T12:21:17.630","freq":50.0255},
{"city":"Malaga","time":"2025-04-28T12:21:17.710","freq":50.0160},
{"city":"Malaga","time":"2025-04-28T12:21:17.820","freq":50.0046},
{"city":"Malaga","time":"2025-04-28T12:21:17.900","freq":49.9990},
{"city":"Malaga","time":"2025-04-28T12:21:18.020","freq":49.9850},
{"city":"Malaga","time":"2025-04-28T12:21:18.090","freq":49.9770},
{"city":"Malaga","time":"2025-04-28T12:21:18.170","freq":49.9690},
{"city":"Malaga","time":"2025-04-28T12:21:18.290","freq":49.9590},
{"city":"Malaga","time":"2025-04-28T12:21:18.450","freq":49.9400},
{"city":"Malaga","time":"2025-04-28T12:21:18.600","freq":49.9280},
{"city":"Malaga","time":"2025-04-28T12:21:18.800","freq":49.9260},
{"city":"Malaga","time":"2025-04-28T12:21:18.950","freq":49.9200},
{"city":"Malaga","time":"2025-04-28T12:21:19.100","freq":49.9185},
{"city":"Malaga","time":"2025-04-28T12:21:19.250","freq":49.9210},
{"city":"Malaga","time":"2025-04-28T12:21:19.350","freq":49.9390},
{"city":"Malaga","time":"2025-04-28T12:21:19.500","freq":49.9400},
{"city":"Malaga","time":"2025-04-28T12:21:19.600","freq":49.9500},
{"city":"Malaga","time":"2025-04-28T12:21:19.680","freq":49.9590},
{"city":"Malaga","time":"2025-04-28T12:21:19.710","freq":49.9670},
{"city":"Malaga","time":"2025-04-28T12:21:19.790","freq":49.9710},
{"city":"Malaga","time":"2025-04-28T12:21:19.870","freq":49.9810},
{"city":"Malaga","time":"2025-04-28T12:21:19.950","freq":49.9850},
{"city":"Malaga","time":"2025-04-28T12:21:20.020","freq":49.9970},
{"city":"Malaga","time":"2025-04-28T12:21:20.140","freq":50.0093},
{"city":"Malaga","time":"2025-04-28T12:21:20.250","freq":50.0215},
{"city":"Malaga","time":"2025-04-28T12:21:20.330","freq":50.0310},
{"city":"Malaga","time":"2025-04-28T12:21:20.450","freq":50.0420},
{"city":"Malaga","time":"2025-04-28T12:21:20.600","freq":50.0550},
{"city":"Malaga","time":"2025-04-28T12:21:20.800","freq":50.0750},
{"city":"Malaga","time":"2025-04-28T12:21:20.950","freq":50.0900},
{"city":"Malaga","time":"2025-04-28T12:21:21.100","freq":50.1000},
{"city":"Malaga","time":"2025-04-28T12:21:21.250","freq":50.1035},
{"city":"Malaga","time":"2025-04-28T12:21:21.400","freq":50.1025},
{"city":"Malaga","time":"2025-04-28T12:21:21.550","freq":50.0900},
{"city":"Malaga","time":"2025-04-28T12:21:21.700","freq":50.0750},
{"city":"Malaga","time":"2025-04-28T12:21:21.900","freq":50.0620},
{"city":"Malaga","time":"2025-04-28T12:21:22.050","freq":50.0520},
{"city":"Malaga","time":"2025-04-28T12:21:22.180","freq":50.0420},
{"city":"Malaga","time":"2025-04-28T12:21:22.260","freq":50.0340},
{"city":"Malaga","time":"2025-04-28T12:21:22.340","freq":50.0215},
{"city":"Malaga","time":"2025-04-28T12:21:22.450","freq":50.0133},
{"city":"Malaga","time":"2025-04-28T12:21:22.570","freq":50.0067},
{"city":"Malaga","time":"2025-04-28T12:21:22.690","freq":49.9897},
{"city":"Malaga","time":"2025-04-28T12:21:22.760","freq":49.9810},
{"city":"Malaga","time":"2025-04-28T12:21:22.850","freq":49.9590},
{"city":"Malaga","time":"2025-04-28T12:21:23.000","freq":49.9450},
{"city":"Malaga","time":"2025-04-28T12:21:23.120","freq":49.9320},
{"city":"Malaga","time":"2025-04-28T12:21:23.300","freq":49.9170},
{"city":"Malaga","time":"2025-04-28T12:21:23.470","freq":49.9146},
{"city":"Malaga","time":"2025-04-28T12:21:23.570","freq":49.9148},
{"city":"Malaga","time":"2025-04-28T12:21:23.730","freq":49.9210},
{"city":"Malaga","time":"2025-04-28T12:21:23.900","freq":49.9350},
{"city":"Malaga","time":"2025-04-28T12:21:24.020","freq":49.9480},
{"city":"Malaga","time":"2025-04-28T12:21:24.120","freq":49.9590},
{"city":"Malaga","time":"2025-04-28T12:21:24.200","freq":49.9690},
{"city":"Malaga","time":"2025-04-28T12:21:24.310","freq":49.9810},
{"city":"Malaga","time":"2025-04-28T12:21:24.390","freq":49.9914},
{"city":"Malaga","time":"2025-04-28T12:21:24.470","freq":50.0013},
{"city":"Malaga","time":"2025-04-28T12:21:24.580","freq":50.0093},
{"city":"Malaga","time":"2025-04-28T12:21:24.700","freq":50.0174},
{"city":"Malaga","time":"2025-04-28T12:21:24.810","freq":50.0270},
{"city":"Malaga","time":"2025-04-28T12:21:24.890","freq":50.0350},
{"city":"Malaga","time":"2025-04-28T12:21:24.970","freq":50.0360},
{"city":"Malaga","time":"2025-04-28T12:21:25.030","freq":50.0420},
{"city":"Malaga","time":"2025-04-28T12:21:25.200","freq":50.0550},
{"city":"Malaga","time":"2025-04-28T12:21:25.400","freq":50.0720},
{"city":"Malaga","time":"2025-04-28T12:21:25.550","freq":50.0850},
{"city":"Malaga","time":"2025-04-28T12:21:25.700","freq":50.0910},
{"city":"Malaga","time":"2025-04-28T12:21:25.850","freq":50.0890},
{"city":"Malaga","time":"2025-04-28T12:21:25.950","freq":50.0850},
{"city":"Malaga","time":"2025-04-28T12:21:26.100","freq":50.0700},
{"city":"Malaga","time":"2025-04-28T12:21:26.300","freq":50.0550},
{"city":"Malaga","time":"2025-04-28T12:21:26.470","freq":50.0420},
{"city":"Malaga","time":"2025-04-28T12:21:26.550","freq":50.0337},
{"city":"Malaga","time":"2025-04-28T12:21:26.630","freq":50.0256},
{"city":"Malaga","time":"2025-04-28T12:21:26.710","freq":50.0190},
{"city":"Malaga","time":"2025-04-28T12:21:26.820","freq":50.0093},
{"city":"Malaga","time":"2025-04-28T12:21:26.940","freq":49.9997},
{"city":"Malaga","time":"2025-04-28T12:21:27.050","freq":49.9866},
{"city":"Malaga","time":"2025-04-28T12:21:27.130","freq":49.9770},
{"city":"Malaga","time":"2025-04-28T12:21:27.250","freq":49.9646},
{"city":"Malaga","time":"2025-04-28T12:21:27.320","freq":49.9590},
{"city":"Malaga","time":"2025-04-28T12:21:27.500","freq":49.9400},
{"city":"Malaga","time":"2025-04-28T12:21:27.700","freq":49.9220},
{"city":"Malaga","time":"2025-04-28T12:21:27.850","freq":49.9175},
{"city":"Malaga","time":"2025-04-28T12:21:28.250","freq":49.9170},
{"city":"Malaga","time":"2025-04-28T12:21:28.400","freq":49.9250},
{"city":"Malaga","time":"2025-04-28T12:21:28.550","freq":49.9400},
{"city":"Malaga","time":"2025-04-28T12:21:28.750","freq":49.9520},
{"city":"Malaga","time":"2025-04-28T12:21:28.900","freq":49.9590},
{"city":"Malaga","time":"2025-04-28T12:21:28.980","freq":49.9700},
{"city":"Malaga","time":"2025-04-28T12:21:29.060","freq":49.9850},
{"city":"Malaga","time":"2025-04-28T12:21:29.140","freq":49.9970},
{"city":"Malaga","time":"2025-04-28T12:21:29.250","freq":50.0077},
{"city":"Malaga","time":"2025-04-28T12:21:29.370","freq":50.0174},
{"city":"Malaga","time":"2025-04-28T12:21:29.440","freq":50.0256},
{"city":"Malaga","time":"2025-04-28T12:21:29.560","freq":50.0420},
{"city":"Malaga","time":"2025-04-28T12:21:29.700","freq":50.0550},
{"city":"Malaga","time":"2025-04-28T12:21:29.850","freq":50.0650},
{"city":"Malaga","time":"2025-04-28T12:21:30.000","freq":50.0700},
{"city":"Malaga","time":"2025-04-28T12:21:30.150","freq":50.0730},
{"city":"Malaga","time":"2025-04-28T12:21:30.450","freq":50.0725},
{"city":"Malaga","time":"2025-04-28T12:21:30.600","freq":50.0650},
{"city":"Malaga","time":"2025-04-28T12:21:30.800","freq":50.0520},
{"city":"Malaga","time":"2025-04-28T12:21:30.990","freq":50.0420},
{"city":"Malaga","time":"2025-04-28T12:21:31.100","freq":50.0310},
{"city":"Malaga","time":"2025-04-28T12:21:31.180","freq":50.0174},
{"city":"Malaga","time":"2025-04-28T12:21:31.260","freq":50.0093},
{"city":"Malaga","time":"2025-04-28T12:21:31.370","freq":50.0069},
{"city":"Malaga","time":"2025-04-28T12:21:31.450","freq":49.9997},
{"city":"Malaga","time":"2025-04-28T12:21:31.530","freq":49.9900},
{"city":"Malaga","time":"2025-04-28T12:21:31.680","freq":49.9850},
{"city":"Malaga","time":"2025-04-28T12:21:31.800","freq":49.9770},
{"city":"Malaga","time":"2025-04-28T12:21:31.880","freq":49.9646},
{"city":"Malaga","time":"2025-04-28T12:21:31.910","freq":49.9590},
{"city":"Malaga","time":"2025-04-28T12:21:32.100","freq":49.9450},
{"city":"Malaga","time":"2025-04-28T12:21:32.300","freq":49.9320},
{"city":"Malaga","time":"2025-04-28T12:21:32.500","freq":49.9290},
{"city":"Malaga","time":"2025-04-28T12:21:32.900","freq":49.9295},
{"city":"Malaga","time":"2025-04-28T12:21:33.100","freq":49.9400},
{"city":"Malaga","time":"2025-04-28T12:21:33.300","freq":49.9520},
{"city":"Malaga","time":"2025-04-28T12:21:33.430","freq":49.9630},
{"city":"Malaga","time":"2025-04-28T12:21:33.510","freq":49.9700},
{"city":"Malaga","time":"2025-04-28T12:21:33.590","freq":49.9800},
{"city":"Malaga","time":"2025-04-28T12:21:33.740","freq":49.9914},
{"city":"Malaga","time":"2025-04-28T12:21:33.860","freq":50.0030},
{"city":"Malaga","time":"2025-04-28T12:21:33.970","freq":50.0077},
{"city":"Malaga","time":"2025-04-28T12:21:34.090","freq":50.0174},
{"city":"Malaga","time":"2025-04-28T12:21:34.170","freq":50.0256},
{"city":"Malaga","time":"2025-04-28T12:21:34.200","freq":50.0264},
{"city":"Malaga","time":"2025-04-28T12:21:34.280","freq":50.0296},
{"city":"Malaga","time":"2025-04-28T12:21:34.360","freq":50.0310},
{"city":"Malaga","time":"2025-04-28T12:21:34.420","freq":50.0370},
{"city":"Malaga","time":"2025-04-28T12:21:34.480","freq":50.0420},
{"city":"Malaga","time":"2025-04-28T12:21:34.600","freq":50.0500},
{"city":"Malaga","time":"2025-04-28T12:21:34.750","freq":50.0540},
{"city":"Malaga","time":"2025-04-28T12:21:34.900","freq":50.0555},
{"city":"Malaga","time":"2025-04-28T12:21:35.150","freq":50.0555},
{"city":"Malaga","time":"2025-04-28T12:21:35.300","freq":50.0500},
{"city":"Malaga","time":"2025-04-28T12:21:35.450","freq":50.0450},
{"city":"Malaga","time":"2025-04-28T12:21:35.520","freq":50.0420},
{"city":"Malaga","time":"2025-04-28T12:21:35.590","freq":50.0370},
{"city":"Malaga","time":"2025-04-28T12:21:35.670","freq":50.0296},
{"city":"Malaga","time":"2025-04-28T12:21:35.750","freq":50.0230},
{"city":"Malaga","time":"2025-04-28T12:21:35.830","freq":50.0160},
{"city":"Malaga","time":"2025-04-28T12:21:35.900","freq":50.0110},
{"city":"Malaga","time":"2025-04-28T12:21:36.020","freq":49.9987},
{"city":"Malaga","time":"2025-04-28T12:21:36.130","freq":49.9850},
{"city":"Malaga","time":"2025-04-28T12:21:36.250","freq":49.9770},
{"city":"Malaga","time":"2025-04-28T12:21:36.360","freq":49.9670},
{"city":"Malaga","time":"2025-04-28T12:21:36.480","freq":49.9605},
{"city":"Malaga","time":"2025-04-28T12:21:36.600","freq":49.9590},
{"city":"Malaga","time":"2025-04-28T12:21:36.800","freq":49.9500},
{"city":"Malaga","time":"2025-04-28T12:21:37.000","freq":49.9410},
{"city":"Malaga","time":"2025-04-28T12:21:37.200","freq":49.9360},
{"city":"Malaga","time":"2025-04-28T12:21:37.500","freq":49.9340},
{"city":"Malaga","time":"2025-04-28T12:21:37.650","freq":49.9345},
{"city":"Malaga","time":"2025-04-28T12:21:37.800","freq":49.9450},
{"city":"Malaga","time":"2025-04-28T12:21:37.950","freq":49.9540},
{"city":"Malaga","time":"2025-04-28T12:21:38.020","freq":49.9590},
{"city":"Malaga","time":"2025-04-28T12:21:38.060","freq":49.9660},
{"city":"Malaga","time":"2025-04-28T12:21:38.140","freq":49.9700},
{"city":"Malaga","time":"2025-04-28T12:21:38.220","freq":49.9810},
{"city":"Malaga","time":"2025-04-28T12:21:38.300","freq":49.9890},
{"city":"Malaga","time":"2025-04-28T12:21:38.370","freq":49.9964},
{"city":"Malaga","time":"2025-04-28T12:21:38.530","freq":50.0036},
{"city":"Malaga","time":"2025-04-28T12:21:38.640","freq":50.0093},
{"city":"Malaga","time":"2025-04-28T12:21:38.760","freq":50.0174},
{"city":"Malaga","time":"2025-04-28T12:21:38.870","freq":50.0230},
{"city":"Malaga","time":"2025-04-28T12:21:38.990","freq":50.0256},
{"city":"Malaga","time":"2025-04-28T12:21:39.100","freq":50.0296},
{"city":"Malaga","time":"2025-04-28T12:21:39.180","freq":50.0345},
{"city":"Malaga","time":"2025-04-28T12:21:39.380","freq":50.0360},
{"city":"Malaga","time":"2025-04-28T12:21:39.490","freq":50.0390},
{"city":"Malaga","time":"2025-04-28T12:21:39.610","freq":50.0400},
{"city":"Malaga","time":"2025-04-28T12:21:39.800","freq":50.0410},
{"city":"Malaga","time":"2025-04-28T12:21:39.950","freq":50.0404},
{"city":"Malaga","time":"2025-04-28T12:21:40.030","freq":50.0370},
{"city":"Malaga","time":"2025-04-28T12:21:40.100","freq":50.0330},
{"city":"Malaga","time":"2025-04-28T12:21:40.220","freq":50.0310},
{"city":"Malaga","time":"2025-04-28T12:21:40.260","freq":50.0142},
{"city":"Malaga","time":"2025-04-28T12:21:40.340","freq":50.0138},
{"city":"Malaga","time":"2025-04-28T12:21:40.420","freq":50.0013},
{"city":"Malaga","time":"2025-04-28T12:21:40.570","freq":49.9850},
{"city":"Malaga","time":"2025-04-28T12:21:40.730","freq":49.9730},
{"city":"Malaga","time":"2025-04-28T12:21:40.840","freq":49.9690},
{"city":"Malaga","time":"2025-04-28T12:21:40.960","freq":49.9605},
{"city":"Malaga","time":"2025-04-28T12:21:41.030","freq":49.9590},
{"city":"Malaga","time":"2025-04-28T12:21:41.200","freq":49.9480},
{"city":"Malaga","time":"2025-04-28T12:21:41.400","freq":49.9410},
{"city":"Malaga","time":"2025-04-28T12:21:41.600","freq":49.9350},
{"city":"Malaga","time":"2025-04-28T12:21:41.850","freq":49.9340},
{"city":"Malaga","time":"2025-04-28T12:21:42.000","freq":49.9370},
{"city":"Malaga","time":"2025-04-28T12:21:42.200","freq":49.9450},
{"city":"Malaga","time":"2025-04-28T12:21:42.400","freq":49.9530},
{"city":"Malaga","time":"2025-04-28T12:21:42.500","freq":49.9590},
{"city":"Malaga","time":"2025-04-28T12:21:42.580","freq":49.9670},
{"city":"Malaga","time":"2025-04-28T12:21:42.650","freq":49.9730},
{"city":"Malaga","time":"2025-04-28T12:21:42.770","freq":49.9850},
{"city":"Malaga","time":"2025-04-28T12:21:42.890","freq":49.9956},
{"city":"Malaga","time":"2025-04-28T12:21:42.960","freq":50.0030},
{"city":"Malaga","time":"2025-04-28T12:21:43.080","freq":50.0062},
{"city":"Malaga","time":"2025-04-28T12:21:43.270","freq":50.0109},
{"city":"Malaga","time":"2025-04-28T12:21:43.390","freq":50.0174},
{"city":"Malaga","time":"2025-04-28T12:21:43.540","freq":50.0215},
{"city":"Malaga","time":"2025-04-28T12:21:43.620","freq":50.0248},
{"city":"Malaga","time":"2025-04-28T12:21:43.740","freq":50.0260},
{"city":"Malaga","time":"2025-04-28T12:21:43.890","freq":50.0285},
{"city":"Malaga","time":"2025-04-28T12:21:44.000","freq":50.0337},
{"city":"Malaga","time":"2025-04-28T12:21:44.290","freq":50.0329},
{"city":"Porto","time":"2025-04-28T12:21:01.033","freq":49.9945},
{"city":"Porto","time":"2025-04-28T12:21:01.260","freq":49.9970},
{"city":"Porto","time":"2025-04-28T12:21:01.460","freq":50.0093},
{"city":"Porto","time":"2025-04-28T12:21:01.570","freq":50.0077},
{"city":"Porto","time":"2025-04-28T12:21:01.690","freq":50.0090},
{"city":"Porto","time":"2025-04-28T12:21:01.960","freq":50.0100},
{"city":"Porto","time":"2025-04-28T12:21:02.080","freq":50.0105},
{"city":"Porto","time":"2025-04-28T12:21:02.150","freq":50.0174},
{"city":"Porto","time":"2025-04-28T12:21:02.270","freq":50.0220},
{"city":"Porto","time":"2025-04-28T12:21:02.350","freq":50.0235},
{"city":"Porto","time":"2025-04-28T12:21:02.460","freq":50.0288},
{"city":"Porto","time":"2025-04-28T12:21:02.650","freq":50.0330},
{"city":"Porto","time":"2025-04-28T12:21:02.770","freq":50.0360},
{"city":"Porto","time":"2025-04-28T12:21:02.890","freq":50.0380},
{"city":"Porto","time":"2025-04-28T12:21:02.930","freq":50.0420},
{"city":"Porto","time":"2025-04-28T12:21:03.050","freq":50.0455},
{"city":"Porto","time":"2025-04-28T12:21:03.300","freq":50.0460},
{"city":"Porto","time":"2025-04-28T12:21:03.430","freq":50.0420},
{"city":"Porto","time":"2025-04-28T12:21:03.540","freq":50.0360},
{"city":"Porto","time":"2025-04-28T12:21:03.700","freq":50.0345},
{"city":"Porto","time":"2025-04-28T12:21:03.770","freq":50.0199},
{"city":"Porto","time":"2025-04-28T12:21:03.970","freq":50.0089},
{"city":"Porto","time":"2025-04-28T12:21:04.200","freq":50.0077},
{"city":"Porto","time":"2025-04-28T12:21:04.270","freq":50.0013},
{"city":"Porto","time":"2025-04-28T12:21:04.470","freq":50.0009},
{"city":"Porto","time":"2025-04-28T12:21:04.620","freq":49.9947},
{"city":"Porto","time":"2025-04-28T12:21:04.700","freq":49.9923},
{"city":"Porto","time":"2025-04-28T12:21:04.850","freq":49.9760},
{"city":"Porto","time":"2025-04-28T12:21:04.970","freq":49.9768},
{"city":"Porto","time":"2025-04-28T12:21:05.080","freq":49.9736},
{"city":"Porto","time":"2025-04-28T12:21:05.240","freq":49.9687},
{"city":"Porto","time":"2025-04-28T12:21:05.390","freq":49.9683},
{"city":"Porto","time":"2025-04-28T12:21:05.510","freq":49.9728},
{"city":"Porto","time":"2025-04-28T12:21:05.590","freq":49.9732},
{"city":"Porto","time":"2025-04-28T12:21:05.700","freq":49.9850},
{"city":"Porto","time":"2025-04-28T12:21:05.820","freq":49.9971},
{"city":"Porto","time":"2025-04-28T12:21:05.930","freq":50.0110},
{"city":"Porto","time":"2025-04-28T12:21:06.010","freq":50.0134},
{"city":"Porto","time":"2025-04-28T12:21:06.170","freq":50.0134},
{"city":"Porto","time":"2025-04-28T12:21:06.280","freq":50.0256},
{"city":"Porto","time":"2025-04-28T12:21:06.400","freq":50.0260},
{"city":"Porto","time":"2025-04-28T12:21:06.550","freq":50.0296},
{"city":"Porto","time":"2025-04-28T12:21:06.630","freq":50.0337},
{"city":"Porto","time":"2025-04-28T12:21:06.780","freq":50.0353},
{"city":"Porto","time":"2025-04-28T12:21:06.980","freq":50.0377},
{"city":"Porto","time":"2025-04-28T12:21:07.050","freq":50.0420},
{"city":"Porto","time":"2025-04-28T12:21:07.200","freq":50.0460},
{"city":"Porto","time":"2025-04-28T12:21:07.400","freq":50.0500},
{"city":"Porto","time":"2025-04-28T12:21:07.610","freq":50.0534},
{"city":"Porto","time":"2025-04-28T12:21:07.840","freq":50.0560},
{"city":"Porto","time":"2025-04-28T12:21:08.040","freq":50.0560},
{"city":"Porto","time":"2025-04-28T12:21:08.150","freq":50.0520},
{"city":"Porto","time":"2025-04-28T12:21:08.250","freq":50.0460},
{"city":"Porto","time":"2025-04-28T12:21:08.360","freq":50.0420},
{"city":"Porto","time":"2025-04-28T12:21:08.480","freq":50.0320},
{"city":"Porto","time":"2025-04-28T12:21:08.600","freq":50.0200},
{"city":"Porto","time":"2025-04-28T12:21:08.750","freq":50.0206},
{"city":"Porto","time":"2025-04-28T12:21:08.830","freq":50.0093},
{"city":"Porto","time":"2025-04-28T12:21:08.940","freq":49.9980},
{"city":"Porto","time":"2025-04-28T12:21:09.060","freq":49.9947},
{"city":"Porto","time":"2025-04-28T12:21:09.170","freq":49.9890},
{"city":"Porto","time":"2025-04-28T12:21:09.410","freq":49.9858},
{"city":"Porto","time":"2025-04-28T12:21:09.560","freq":49.9842},
{"city":"Porto","time":"2025-04-28T12:21:09.710","freq":49.9820},
{"city":"Porto","time":"2025-04-28T12:21:09.870","freq":49.9784},
{"city":"Porto","time":"2025-04-28T12:21:10.060","freq":49.9768},
{"city":"Porto","time":"2025-04-28T12:21:10.250","freq":49.9756},
{"city":"Porto","time":"2025-04-28T12:21:10.490","freq":49.9750},
{"city":"Porto","time":"2025-04-28T12:21:10.600","freq":49.9760},
{"city":"Porto","time":"2025-04-28T12:21:10.720","freq":49.9834},
{"city":"Porto","time":"2025-04-28T12:21:10.830","freq":49.9915},
{"city":"Porto","time":"2025-04-28T12:21:10.950","freq":50.0110},
{"city":"Porto","time":"2025-04-28T12:21:11.030","freq":50.0150},
{"city":"Porto","time":"2025-04-28T12:21:11.180","freq":50.0255},
{"city":"Porto","time":"2025-04-28T12:21:11.260","freq":50.0312},
{"city":"Porto","time":"2025-04-28T12:21:11.340","freq":50.0316},
{"city":"Porto","time":"2025-04-28T12:21:11.410","freq":50.0377},
{"city":"Porto","time":"2025-04-28T12:21:11.490","freq":50.0406},
{"city":"Porto","time":"2025-04-28T12:21:11.680","freq":50.0410},
{"city":"Porto","time":"2025-04-28T12:21:11.800","freq":50.0420},
{"city":"Porto","time":"2025-04-28T12:21:12.000","freq":50.0450},
{"city":"Porto","time":"2025-04-28T12:21:12.200","freq":50.0470},
{"city":"Porto","time":"2025-04-28T12:21:12.450","freq":50.0490},
{"city":"Porto","time":"2025-04-28T12:21:12.700","freq":50.0495},
{"city":"Porto","time":"2025-04-28T12:21:12.850","freq":50.0490},
{"city":"Porto","time":"2025-04-28T12:21:12.950","freq":50.0460},
{"city":"Porto","time":"2025-04-28T12:21:13.040","freq":50.0420},
{"city":"Porto","time":"2025-04-28T12:21:13.120","freq":50.0377},
{"city":"Porto","time":"2025-04-28T12:21:13.190","freq":50.0284},
{"city":"Porto","time":"2025-04-28T12:21:13.270","freq":50.0240},
{"city":"Porto","time":"2025-04-28T12:21:13.350","freq":50.0052},
{"city":"Porto","time":"2025-04-28T12:21:13.430","freq":50.0044},
{"city":"Porto","time":"2025-04-28T12:21:13.500","freq":50.0013},
{"city":"Porto","time":"2025-04-28T12:21:13.620","freq":49.9970},
{"city":"Porto","time":"2025-04-28T12:21:13.730","freq":49.9890},
{"city":"Porto","time":"2025-04-28T12:21:13.850","freq":49.9800},
{"city":"Porto","time":"2025-04-28T12:21:13.970","freq":49.9728},
{"city":"Porto","time":"2025-04-28T12:21:14.120","freq":49.9687},
{"city":"Porto","time":"2025-04-28T12:21:14.200","freq":49.9670},
{"city":"Porto","time":"2025-04-28T12:21:14.350","freq":49.9638},
{"city":"Porto","time":"2025-04-28T12:21:14.430","freq":49.9590},
{"city":"Porto","time":"2025-04-28T12:21:14.600","freq":49.9565},
{"city":"Porto","time":"2025-04-28T12:21:14.800","freq":49.9570},
{"city":"Porto","time":"2025-04-28T12:21:14.930","freq":49.9590},
{"city":"Porto","time":"2025-04-28T12:21:15.050","freq":49.9687},
{"city":"Porto","time":"2025-04-28T12:21:15.200","freq":49.9850},
{"city":"Porto","time":"2025-04-28T12:21:15.320","freq":49.9930},
{"city":"Porto","time":"2025-04-28T12:21:15.430","freq":50.0013},
{"city":"Porto","time":"2025-04-28T12:21:15.590","freq":50.0134},
{"city":"Porto","time":"2025-04-28T12:21:15.740","freq":50.0255},
{"city":"Porto","time":"2025-04-28T12:21:15.900","freq":50.0255},
{"city":"Porto","time":"2025-04-28T12:21:16.090","freq":50.0264},
{"city":"Porto","time":"2025-04-28T12:21:16.130","freq":50.0337},
{"city":"Porto","time":"2025-04-28T12:21:16.200","freq":50.0353},
{"city":"Porto","time":"2025-04-28T12:21:16.360","freq":50.0377},
{"city":"Porto","time":"2025-04-28T12:21:16.440","freq":50.0390},
{"city":"Porto","time":"2025-04-28T12:21:16.510","freq":50.0420},
{"city":"Porto","time":"2025-04-28T12:21:16.650","freq":50.0480},
{"city":"Porto","time":"2025-04-28T12:21:16.800","freq":50.0540},
{"city":"Porto","time":"2025-04-28T12:21:16.950","freq":50.0555},
{"city":"Porto","time":"2025-04-28T12:21:17.200","freq":50.0550},
{"city":"Porto","time":"2025-04-28T12:21:17.400","freq":50.0500},
{"city":"Porto","time":"2025-04-28T12:21:17.550","freq":50.0450},
{"city":"Porto","time":"2025-04-28T12:21:17.630","freq":50.0420},
{"city":"Porto","time":"2025-04-28T12:21:17.710","freq":50.0255},
{"city":"Porto","time":"2025-04-28T12:21:17.820","freq":50.0174},
{"city":"Porto","time":"2025-04-28T12:21:17.900","freq":50.0030},
{"city":"Porto","time":"2025-04-28T12:21:17.980","freq":49.9963},
{"city":"Porto","time":"2025-04-28T12:21:18.060","freq":49.9890},
{"city":"Porto","time":"2025-04-28T12:21:18.170","freq":49.9784},
{"city":"Porto","time":"2025-04-28T12:21:18.290","freq":49.9748},
{"city":"Porto","time":"2025-04-28T12:21:18.400","freq":49.9748},
{"city":"Porto","time":"2025-04-28T12:21:18.520","freq":49.9703},
{"city":"Porto","time":"2025-04-28T12:21:18.600","freq":49.9640},
{"city":"Porto","time":"2025-04-28T12:21:18.670","freq":49.9590},
{"city":"Porto","time":"2025-04-28T12:21:18.900","freq":49.9500},
{"city":"Porto","time":"2025-04-28T12:21:19.200","freq":49.9463},
{"city":"Porto","time":"2025-04-28T12:21:19.400","freq":49.9450},
{"city":"Porto","time":"2025-04-28T12:21:19.650","freq":49.9440},
{"city":"Porto","time":"2025-04-28T12:21:19.750","freq":49.9500},
{"city":"Porto","time":"2025-04-28T12:21:19.830","freq":49.9590},
{"city":"Porto","time":"2025-04-28T12:21:19.910","freq":49.9841},
{"city":"Porto","time":"2025-04-28T12:21:19.980","freq":49.9845},
{"city":"Porto","time":"2025-04-28T12:21:20.060","freq":49.9970},
{"city":"Porto","time":"2025-04-28T12:21:20.220","freq":50.0093},
{"city":"Porto","time":"2025-04-28T12:21:20.330","freq":50.0174},
{"city":"Porto","time":"2025-04-28T12:21:20.450","freq":50.0256},
{"city":"Porto","time":"2025-04-28T12:21:20.520","freq":50.0312},
{"city":"Porto","time":"2025-04-28T12:21:20.600","freq":50.0377},
{"city":"Porto","time":"2025-04-28T12:21:20.640","freq":50.0420},
{"city":"Porto","time":"2025-04-28T12:21:20.800","freq":50.0500},
{"city":"Porto","time":"2025-04-28T12:21:20.950","freq":50.0560},
{"city":"Porto","time":"2025-04-28T12:21:21.100","freq":50.0630},
{"city":"Porto","time":"2025-04-28T12:21:21.300","freq":50.0685},
{"city":"Porto","time":"2025-04-28T12:21:21.450","freq":50.0720},
{"city":"Porto","time":"2025-04-28T12:21:21.650","freq":50.0715},
{"city":"Porto","time":"2025-04-28T12:21:21.800","freq":50.0650},
{"city":"Porto","time":"2025-04-28T12:21:21.950","freq":50.0550},
{"city":"Porto","time":"2025-04-28T12:21:22.100","freq":50.0470},
{"city":"Porto","time":"2025-04-28T12:21:22.220","freq":50.0420},
{"city":"Porto","time":"2025-04-28T12:21:22.340","freq":50.0240},
{"city":"Porto","time":"2025-04-28T12:21:22.450","freq":50.0150},
{"city":"Porto","time":"2025-04-28T12:21:22.570","freq":50.0013},
{"city":"Porto","time":"2025-04-28T12:21:22.650","freq":50.0005},
{"city":"Porto","time":"2025-04-28T12:21:22.730","freq":49.9930},
{"city":"Porto","time":"2025-04-28T12:21:22.810","freq":49.9890},
{"city":"Porto","time":"2025-04-28T12:21:22.920","freq":49.9810},
{"city":"Porto","time":"2025-04-28T12:21:23.040","freq":49.9687},
{"city":"Porto","time":"2025-04-28T12:21:23.120","freq":49.9670},
{"city":"Porto","time":"2025-04-28T12:21:23.230","freq":49.9590},
{"city":"Porto","time":"2025-04-28T12:21:23.300","freq":49.9580},
{"city":"Porto","time":"2025-04-28T12:21:23.500","freq":49.9420},
{"city":"Porto","time":"2025-04-28T12:21:23.650","freq":49.9370},
{"city":"Porto","time":"2025-04-28T12:21:23.800","freq":49.9375},
{"city":"Porto","time":"2025-04-28T12:21:24.000","freq":49.9480},
{"city":"Porto","time":"2025-04-28T12:21:24.120","freq":49.9590},
{"city":"Porto","time":"2025-04-28T12:21:24.200","freq":49.9670},
{"city":"Porto","time":"2025-04-28T12:21:24.270","freq":49.9728},
{"city":"Porto","time":"2025-04-28T12:21:24.390","freq":49.9906},
{"city":"Porto","time":"2025-04-28T12:21:24.500","freq":50.0013},
{"city":"Porto","time":"2025-04-28T12:21:24.620","freq":50.0093},
{"city":"Porto","time":"2025-04-28T12:21:24.740","freq":50.0134},
{"city":"Porto","time":"2025-04-28T12:21:24.810","freq":50.0256},
{"city":"Porto","time":"2025-04-28T12:21:24.930","freq":50.0320},
{"city":"Porto","time":"2025-04-28T12:21:25.050","freq":50.0337},
{"city":"Porto","time":"2025-04-28T12:21:25.120","freq":50.0340},
{"city":"Porto","time":"2025-04-28T12:21:25.240","freq":50.0420},
{"city":"Porto","time":"2025-04-28T12:21:25.400","freq":50.0520},
{"city":"Porto","time":"2025-04-28T12:21:25.550","freq":50.0580},
{"city":"Porto","time":"2025-04-28T12:21:25.700","freq":50.0630},
{"city":"Porto","time":"2025-04-28T12:21:25.850","freq":50.0680},
{"city":"Porto","time":"2025-04-28T12:21:26.000","freq":50.0675},
{"city":"Porto","time":"2025-04-28T12:21:26.150","freq":50.0650},
{"city":"Porto","time":"2025-04-28T12:21:26.300","freq":50.0550},
{"city":"Porto","time":"2025-04-28T12:21:26.420","freq":50.0470},
{"city":"Porto","time":"2025-04-28T12:21:26.510","freq":50.0420},
{"city":"Porto","time":"2025-04-28T12:21:26.590","freq":50.0337},
{"city":"Porto","time":"2025-04-28T12:21:26.670","freq":50.0256},
{"city":"Porto","time":"2025-04-28T12:21:26.740","freq":50.0134},
{"city":"Porto","time":"2025-04-28T12:21:26.860","freq":50.0052},
{"city":"Porto","time":"2025-04-28T12:21:26.940","freq":49.9997},
{"city":"Porto","time":"2025-04-28T12:21:27.010","freq":49.9900},
{"city":"Porto","time":"2025-04-28T12:21:27.130","freq":49.9810},
{"city":"Porto","time":"2025-04-28T12:21:27.250","freq":49.9728},
{"city":"Porto","time":"2025-04-28T12:21:27.360","freq":49.9711},
{"city":"Porto","time":"2025-04-28T12:21:27.480","freq":49.9687},
{"city":"Porto","time":"2025-04-28T12:21:27.590","freq":49.9646},
{"city":"Porto","time":"2025-04-28T12:21:27.710","freq":49.9590},
{"city":"Porto","time":"2025-04-28T12:21:27.810","freq":49.9490},
{"city":"Porto","time":"2025-04-28T12:21:27.960","freq":49.9440},
{"city":"Porto","time":"2025-04-28T12:21:28.200","freq":49.9390},
{"city":"Porto","time":"2025-04-28T12:21:28.300","freq":49.9400},
{"city":"Porto","time":"2025-04-28T12:21:28.440","freq":49.9490},
{"city":"Porto","time":"2025-04-28T12:21:28.600","freq":49.9540},
{"city":"Porto","time":"2025-04-28T12:21:28.710","freq":49.9590},
{"city":"Porto","time":"2025-04-28T12:21:28.830","freq":49.9728},
{"city":"Porto","time":"2025-04-28T12:21:28.900","freq":49.9833},
{"city":"Porto","time":"2025-04-28T12:21:28.980","freq":49.9930},
{"city":"Porto","time":"2025-04-28T12:21:29.060","freq":50.0013},
{"city":"Porto","time":"2025-04-28T12:21:29.170","freq":50.0069},
{"city":"Porto","time":"2025-04-28T12:21:29.290","freq":50.0134},
{"city":"Porto","time":"2025-04-28T12:21:29.370","freq":50.0174},
{"city":"Porto","time":"2025-04-28T12:21:29.480","freq":50.0230},
{"city":"Porto","time":"2025-04-28T12:21:29.600","freq":50.0310},
{"city":"Porto","time":"2025-04-28T12:21:29.680","freq":50.0350},
{"city":"Porto","time":"2025-04-28T12:21:29.750","freq":50.0377},
{"city":"Porto","time":"2025-04-28T12:21:29.830","freq":50.0400},
{"city":"Porto","time":"2025-04-28T12:21:29.910","freq":50.0420},
{"city":"Porto","time":"2025-04-28T12:21:30.050","freq":50.0480},
{"city":"Porto","time":"2025-04-28T12:21:30.250","freq":50.0540},
{"city":"Porto","time":"2025-04-28T12:21:30.450","freq":50.0555},
{"city":"Porto","time":"2025-04-28T12:21:30.650","freq":50.0550},
{"city":"Porto","time":"2025-04-28T12:21:30.850","freq":50.0520},
{"city":"Porto","time":"2025-04-28T12:21:30.970","freq":50.0460},
{"city":"Porto","time":"2025-04-28T12:21:31.060","freq":50.0420},
{"city":"Porto","time":"2025-04-28T12:21:31.100","freq":50.0337},
{"city":"Porto","time":"2025-04-28T12:21:31.180","freq":50.0337},
{"city":"Porto","time":"2025-04-28T12:21:31.300","freq":50.0174},
{"city":"Porto","time":"2025-04-28T12:21:31.370","freq":50.0069},
{"city":"Porto","time":"2025-04-28T12:21:31.450","freq":49.9989},
{"city":"Porto","time":"2025-04-28T12:21:31.530","freq":49.9890},
{"city":"Porto","time":"2025-04-28T12:21:31.600","freq":49.9850},
{"city":"Porto","time":"2025-04-28T12:21:31.720","freq":49.9770},
{"city":"Porto","time":"2025-04-28T12:21:31.840","freq":49.9710},
{"city":"Porto","time":"2025-04-28T12:21:31.990","freq":49.9646},
{"city":"Porto","time":"2025-04-28T12:21:32.110","freq":49.9590},
{"city":"Porto","time":"2025-04-28T12:21:32.300","freq":49.9520},
{"city":"Porto","time":"2025-04-28T12:21:32.600","freq":49.9490},
{"city":"Porto","time":"2025-04-28T12:21:33.000","freq":49.9480},
{"city":"Porto","time":"2025-04-28T12:21:33.200","freq":49.9490},
{"city":"Porto","time":"2025-04-28T12:21:33.380","freq":49.9590},
{"city":"Porto","time":"2025-04-28T12:21:33.460","freq":49.9687},
{"city":"Porto","time":"2025-04-28T12:21:33.550","freq":49.9768},
{"city":"Porto","time":"2025-04-28T12:21:33.660","freq":49.9850},
{"city":"Porto","time":"2025-04-28T12:21:33.780","freq":49.9930},
{"city":"Porto","time":"2025-04-28T12:21:33.860","freq":50.0013},
{"city":"Porto","time":"2025-04-28T12:21:33.970","freq":50.0044},
{"city":"Porto","time":"2025-04-28T12:21:34.090","freq":50.0134},
{"city":"Porto","time":"2025-04-28T12:21:34.200","freq":50.0199},
{"city":"Porto","time":"2025-04-28T12:21:34.320","freq":50.0220},
{"city":"Porto","time":"2025-04-28T12:21:34.480","freq":50.0224},
{"city":"Porto","time":"2025-04-28T12:21:34.590","freq":50.0264},
{"city":"Porto","time":"2025-04-28T12:21:34.710","freq":50.0276},
{"city":"Porto","time":"2025-04-28T12:21:34.820","freq":50.0292},
{"city":"Porto","time":"2025-04-28T12:21:34.940","freq":50.0353},
{"city":"Porto","time":"2025-04-28T12:21:35.010","freq":50.0365},
{"city":"Porto","time":"2025-04-28T12:21:35.360","freq":50.0365},
{"city":"Porto","time":"2025-04-28T12:21:35.440","freq":50.0368},
{"city":"Porto","time":"2025-04-28T12:21:35.590","freq":50.0360},
{"city":"Porto","time":"2025-04-28T12:21:35.710","freq":50.0340},
{"city":"Porto","time":"2025-04-28T12:21:35.790","freq":50.0288},
{"city":"Porto","time":"2025-04-28T12:21:35.870","freq":50.0215},
{"city":"Porto","time":"2025-04-28T12:21:35.940","freq":50.0134},
{"city":"Porto","time":"2025-04-28T12:21:36.020","freq":50.0060},
{"city":"Porto","time":"2025-04-28T12:21:36.100","freq":49.9997},
{"city":"Porto","time":"2025-04-28T12:21:36.180","freq":49.9930},
{"city":"Porto","time":"2025-04-28T12:21:36.290","freq":49.9866},
{"city":"Porto","time":"2025-04-28T12:21:36.400","freq":49.9800},
{"city":"Porto","time":"2025-04-28T12:21:36.520","freq":49.9752},
{"city":"Porto","time":"2025-04-28T12:21:36.600","freq":49.9736},
{"city":"Porto","time":"2025-04-28T12:21:36.710","freq":49.9687},
{"city":"Porto","time":"2025-04-28T12:21:36.830","freq":49.9646},
{"city":"Porto","time":"2025-04-28T12:21:36.980","freq":49.9634},
{"city":"Porto","time":"2025-04-28T12:21:37.100","freq":49.9606},
{"city":"Porto","time":"2025-04-28T12:21:37.180","freq":49.9590},
{"city":"Porto","time":"2025-04-28T12:21:37.400","freq":49.9545},
{"city":"Porto","time":"2025-04-28T12:21:37.700","freq":49.9535},
{"city":"Porto","time":"2025-04-28T12:21:37.900","freq":49.9540},
{"city":"Porto","time":"2025-04-28T12:21:38.060","freq":49.9590},
{"city":"Porto","time":"2025-04-28T12:21:38.140","freq":49.9646},
{"city":"Porto","time":"2025-04-28T12:21:38.220","freq":49.9768},
{"city":"Porto","time":"2025-04-28T12:21:38.300","freq":49.9850},
{"city":"Porto","time":"2025-04-28T12:21:38.370","freq":49.9930},
{"city":"Porto","time":"2025-04-28T12:21:38.450","freq":49.9970},
{"city":"Porto","time":"2025-04-28T12:21:38.560","freq":49.9975},
{"city":"Porto","time":"2025-04-28T12:21:38.680","freq":50.0150},
{"city":"Porto","time":"2025-04-28T12:21:38.760","freq":50.0158},
{"city":"Porto","time":"2025-04-28T12:21:38.840","freq":50.0160},
{"city":"Porto","time":"2025-04-28T12:21:39.070","freq":50.0170},
{"city":"Porto","time":"2025-04-28T12:21:39.260","freq":50.0170},
{"city":"Porto","time":"2025-04-28T12:21:39.380","freq":50.0178},
{"city":"Porto","time":"2025-04-28T12:21:39.490","freq":50.0190},
{"city":"Porto","time":"2025-04-28T12:21:39.610","freq":50.0199},
{"city":"Porto","time":"2025-04-28T12:21:39.720","freq":50.0207},
{"city":"Porto","time":"2025-04-28T12:21:39.800","freq":50.0219},
{"city":"Porto","time":"2025-04-28T12:21:39.920","freq":50.0211},
{"city":"Porto","time":"2025-04-28T12:21:40.070","freq":50.0215},
{"city":"Porto","time":"2025-04-28T12:21:40.220","freq":50.0215},
{"city":"Porto","time":"2025-04-28T12:21:40.300","freq":50.0199},
{"city":"Porto","time":"2025-04-28T12:21:40.380","freq":50.0142},
{"city":"Porto","time":"2025-04-28T12:21:40.460","freq":50.0134},
{"city":"Porto","time":"2025-04-28T12:21:40.570","freq":50.0052},
{"city":"Porto","time":"2025-04-28T12:21:40.650","freq":49.9997},
{"city":"Porto","time":"2025-04-28T12:21:40.760","freq":49.9866},
{"city":"Porto","time":"2025-04-28T12:21:40.920","freq":49.9768},
{"city":"Porto","time":"2025-04-28T12:21:41.030","freq":49.9687},
{"city":"Porto","time":"2025-04-28T12:21:41.150","freq":49.9650},
{"city":"Porto","time":"2025-04-28T12:21:41.270","freq":49.9590},
{"city":"Porto","time":"2025-04-28T12:21:41.400","freq":49.9550},
{"city":"Porto","time":"2025-04-28T12:21:41.600","freq":49.9520},
{"city":"Porto","time":"2025-04-28T12:21:42.000","freq":49.9510},
{"city":"Porto","time":"2025-04-28T12:21:42.300","freq":49.9515},
{"city":"Porto","time":"2025-04-28T12:21:42.500","freq":49.9550},
{"city":"Porto","time":"2025-04-28T12:21:42.620","freq":49.9687},
{"city":"Porto","time":"2025-04-28T12:21:42.770","freq":49.9744},
{"city":"Porto","time":"2025-04-28T12:21:42.850","freq":49.9752},
{"city":"Porto","time":"2025-04-28T12:21:42.960","freq":49.9833},
{"city":"Porto","time":"2025-04-28T12:21:43.080","freq":49.9890},
{"city":"Porto","time":"2025-04-28T12:21:43.160","freq":49.9980},
{"city":"Porto","time":"2025-04-28T12:21:43.230","freq":50.0013},
{"city":"Porto","time":"2025-04-28T12:21:43.310","freq":50.0052},
{"city":"Porto","time":"2025-04-28T12:21:43.390","freq":50.0077},
{"city":"Porto","time":"2025-04-28T12:21:43.500","freq":50.0093},
{"city":"Porto","time":"2025-04-28T12:21:43.580","freq":50.0105},
{"city":"Porto","time":"2025-04-28T12:21:43.700","freq":50.0120},
{"city":"Porto","time":"2025-04-28T12:21:43.810","freq":50.0134},
{"city":"Porto","time":"2025-04-28T12:21:43.890","freq":50.0142},
{"city":"Porto","time":"2025-04-28T12:21:43.970","freq":50.0150},
{"city":"Porto","time":"2025-04-28T12:21:44.040","freq":50.0174},
{"city":"Porto","time":"2025-04-28T12:21:44.080","freq":50.0182},
{"city":"Porto","time":"2025-04-28T12:21:44.200","freq":50.0186},
{"city":"Porto","time":"2025-04-28T12:21:44.290","freq":50.0184},
{"city":"Riga","time":"2025-04-28T12:21:01.033","freq":50.0134},
{"city":"Riga","time":"2025-04-28T12:21:01.500","freq":50.0129},
{"city":"Riga","time":"2025-04-28T12:21:02.000","freq":50.0127},
{"city":"Riga","time":"2025-04-28T12:21:02.500","freq":50.0130},
{"city":"Riga","time":"2025-04-28T12:21:03.000","freq":50.0132},
{"city":"Riga","time":"2025-04-28T12:21:03.500","freq":50.0124},
{"city":"Riga","time":"2025-04-28T12:21:04.000","freq":50.0124},
{"city":"Riga","time":"2025-04-28T12:21:04.400","freq":50.0130},
{"city":"Riga","time":"2025-04-28T12:21:04.600","freq":50.0239},
{"city":"Riga","time":"2025-04-28T12:21:05.000","freq":50.0288},
{"city":"Riga","time":"2025-04-28T12:21:05.300","freq":50.0316},
{"city":"Riga","time":"2025-04-28T12:21:05.800","freq":50.0300},
{"city":"Riga","time":"2025-04-28T12:21:06.000","freq":50.0227},
{"city":"Riga","time":"2025-04-28T12:21:06.300","freq":50.0134},
{"city":"Riga","time":"2025-04-28T12:21:06.600","freq":50.0093},
{"city":"Riga","time":"2025-04-28T12:21:06.850","freq":50.0040},
{"city":"Riga","time":"2025-04-28T12:21:07.000","freq":50.0020},
{"city":"Riga","time":"2025-04-28T12:21:07.500","freq":49.9985},
{"city":"Riga","time":"2025-04-28T12:21:08.000","freq":50.0008},
{"city":"Riga","time":"2025-04-28T12:21:08.500","freq":50.0077},
{"city":"Riga","time":"2025-04-28T12:21:08.750","freq":50.0199},
{"city":"Riga","time":"2025-04-28T12:21:09.000","freq":50.0246},
{"city":"Riga","time":"2025-04-28T12:21:09.500","freq":50.0272},
{"city":"Riga","time":"2025-04-28T12:21:09.750","freq":50.0304},
{"city":"Riga","time":"2025-04-28T12:21:10.000","freq":50.0312},
{"city":"Riga","time":"2025-04-28T12:21:10.500","freq":50.0247},
{"city":"Riga","time":"2025-04-28T12:21:10.750","freq":50.0207},
{"city":"Riga","time":"2025-04-28T12:21:11.000","freq":50.0117},
{"city":"Riga","time":"2025-04-28T12:21:11.500","freq":50.0028},
{"city":"Riga","time":"2025-04-28T12:21:11.650","freq":49.9979},
{"city":"Riga","time":"2025-04-28T12:21:12.000","freq":49.9985},
{"city":"Riga","time":"2025-04-28T12:21:12.500","freq":49.9975},
{"city":"Riga","time":"2025-04-28T12:21:12.900","freq":50.0008},
{"city":"Riga","time":"2025-04-28T12:21:13.100","freq":50.0052},
{"city":"Riga","time":"2025-04-28T12:21:13.200","freq":50.0150},
{"city":"Riga","time":"2025-04-28T12:21:13.500","freq":50.0182},
{"city":"Riga","time":"2025-04-28T12:21:14.000","freq":50.0216},
{"city":"Riga","time":"2025-04-28T12:21:14.500","freq":50.0227},
{"city":"Riga","time":"2025-04-28T12:21:15.000","freq":50.0203},
{"city":"Riga","time":"2025-04-28T12:21:15.300","freq":50.0174},
{"city":"Riga","time":"2025-04-28T12:21:15.500","freq":50.0121},
{"city":"Riga","time":"2025-04-28T12:21:15.650","freq":50.0077},
{"city":"Riga","time":"2025-04-28T12:21:16.000","freq":49.9931},
{"city":"Riga","time":"2025-04-28T12:21:16.500","freq":49.9894},
{"city":"Riga","time":"2025-04-28T12:21:17.000","freq":49.9872},
{"city":"Riga","time":"2025-04-28T12:21:17.200","freq":49.9845},
{"city":"Riga","time":"2025-04-28T12:21:17.400","freq":49.9862},
{"city":"Riga","time":"2025-04-28T12:21:17.500","freq":49.9923},
{"city":"Riga","time":"2025-04-28T12:21:17.700","freq":50.0004},
{"city":"Riga","time":"2025-04-28T12:21:17.900","freq":50.0052},
{"city":"Riga","time":"2025-04-28T12:21:18.050","freq":50.0223},
{"city":"Riga","time":"2025-04-28T12:21:18.300","freq":50.0227},
{"city":"Riga","time":"2025-04-28T12:21:18.500","freq":50.0265},
{"city":"Riga","time":"2025-04-28T12:21:19.000","freq":50.0310},
{"city":"Riga","time":"2025-04-28T12:21:19.500","freq":50.0308},
{"city":"Riga","time":"2025-04-28T12:21:19.700","freq":50.0272},
{"city":"Riga","time":"2025-04-28T12:21:19.900","freq":50.0150},
{"city":"Riga","time":"2025-04-28T12:21:20.100","freq":50.0093},
{"city":"Riga","time":"2025-04-28T12:21:20.300","freq":49.9975},
{"city":"Riga","time":"2025-04-28T12:21:20.700","freq":49.9959},
{"city":"Riga","time":"2025-04-28T12:21:21.000","freq":49.9916},
{"city":"Riga","time":"2025-04-28T12:21:21.500","freq":49.9910},
{"city":"Riga","time":"2025-04-28T12:21:21.900","freq":49.9936},
{"city":"Riga","time":"2025-04-28T12:21:22.050","freq":50.0044},
{"city":"Riga","time":"2025-04-28T12:21:22.200","freq":50.0048},
{"city":"Riga","time":"2025-04-28T12:21:22.500","freq":50.0134},
{"city":"Riga","time":"2025-04-28T12:21:22.800","freq":50.0170},
{"city":"Riga","time":"2025-04-28T12:21:23.000","freq":50.0264},
{"city":"Riga","time":"2025-04-28T12:21:23.500","freq":50.0312},
{"city":"Riga","time":"2025-04-28T12:21:23.750","freq":50.0333},
{"city":"Riga","time":"2025-04-28T12:21:24.000","freq":50.0320},
{"city":"Riga","time":"2025-04-28T12:21:24.200","freq":50.0337},
{"city":"Riga","time":"2025-04-28T12:21:24.400","freq":50.0247},
{"city":"Riga","time":"2025-04-28T12:21:24.600","freq":50.0109},
{"city":"Riga","time":"2025-04-28T12:21:24.900","freq":50.0044},
{"city":"Riga","time":"2025-04-28T12:21:25.200","freq":49.9975},
{"city":"Riga","time":"2025-04-28T12:21:25.500","freq":49.9874},
{"city":"Riga","time":"2025-04-28T12:21:26.000","freq":49.9884},
{"city":"Riga","time":"2025-04-28T12:21:26.500","freq":49.9931},
{"city":"Riga","time":"2025-04-28T12:21:26.950","freq":50.0101},
{"city":"Riga","time":"2025-04-28T12:21:27.100","freq":50.0207},
{"city":"Riga","time":"2025-04-28T12:21:27.500","freq":50.0239},
{"city":"Riga","time":"2025-04-28T12:21:28.000","freq":50.0253},
{"city":"Riga","time":"2025-04-28T12:21:28.300","freq":50.0247},
{"city":"Riga","time":"2025-04-28T12:21:28.600","freq":50.0207},
{"city":"Riga","time":"2025-04-28T12:21:28.850","freq":50.0109},
{"city":"Riga","time":"2025-04-28T12:21:29.000","freq":50.0013},
{"city":"Riga","time":"2025-04-28T12:21:29.300","freq":49.9931},
{"city":"Riga","time":"2025-04-28T12:21:29.500","freq":49.9850},
{"city":"Riga","time":"2025-04-28T12:21:29.900","freq":49.9801},
{"city":"Riga","time":"2025-04-28T12:21:30.100","freq":49.9715},
{"city":"Riga","time":"2025-04-28T12:21:30.400","freq":49.9711},
{"city":"Riga","time":"2025-04-28T12:21:30.600","freq":49.9752},
{"city":"Riga","time":"2025-04-28T12:21:30.800","freq":49.9776},
{"city":"Riga","time":"2025-04-28T12:21:30.900","freq":49.9866},
{"city":"Riga","time":"2025-04-28T12:21:31.000","freq":49.9923},
{"city":"Riga","time":"2025-04-28T12:21:31.500","freq":50.0032},
{"city":"Riga","time":"2025-04-28T12:21:32.000","freq":50.0077},
{"city":"Riga","time":"2025-04-28T12:21:32.500","freq":50.0133},
{"city":"Riga","time":"2025-04-28T12:21:33.000","freq":50.0118},
{"city":"Riga","time":"2025-04-28T12:21:33.300","freq":50.0114},
{"city":"Riga","time":"2025-04-28T12:21:33.450","freq":50.0060},
{"city":"Riga","time":"2025-04-28T12:21:33.600","freq":50.0048},
{"city":"Riga","time":"2025-04-28T12:21:33.900","freq":49.9927},
{"city":"Riga","time":"2025-04-28T12:21:34.000","freq":49.9943},
{"city":"Riga","time":"2025-04-28T12:21:34.200","freq":49.9882},
{"city":"Riga","time":"2025-04-28T12:21:34.500","freq":49.9840},
{"city":"Riga","time":"2025-04-28T12:21:34.850","freq":49.9793},
{"city":"Riga","time":"2025-04-28T12:21:35.000","freq":49.9805},
{"city":"Riga","time":"2025-04-28T12:21:35.500","freq":49.9850},
{"city":"Riga","time":"2025-04-28T12:21:35.700","freq":49.9935},
{"city":"Riga","time":"2025-04-28T12:21:36.000","freq":50.0008},
{"city":"Riga","time":"2025-04-28T12:21:36.500","freq":50.0012},
{"city":"Riga","time":"2025-04-28T12:21:36.800","freq":50.0085},
{"city":"Riga","time":"2025-04-28T12:21:37.000","freq":50.0093},
{"city":"Riga","time":"2025-04-28T12:21:37.500","freq":50.0089},
{"city":"Riga","time":"2025-04-28T12:21:37.800","freq":50.0077},
{"city":"Riga","time":"2025-04-28T12:21:38.000","freq":50.0043},
{"city":"Riga","time":"2025-04-28T12:21:38.300","freq":50.0012},
{"city":"Riga","time":"2025-04-28T12:21:38.500","freq":49.9898},
{"city":"Riga","time":"2025-04-28T12:21:38.800","freq":49.9886},
{"city":"Riga","time":"2025-04-28T12:21:38.900","freq":49.9793},
{"city":"Riga","time":"2025-04-28T12:21:39.000","freq":49.9776},
{"city":"Riga","time":"2025-04-28T12:21:39.100","freq":49.9727},
{"city":"Riga","time":"2025-04-28T12:21:39.500","freq":49.9734},
{"city":"Riga","time":"2025-04-28T12:21:40.000","freq":49.9744},
{"city":"Riga","time":"2025-04-28T12:21:40.200","freq":49.9801},
{"city":"Riga","time":"2025-04-28T12:21:40.400","freq":49.9789},
{"city":"Riga","time":"2025-04-28T12:21:40.550","freq":49.9850},
{"city":"Riga","time":"2025-04-28T12:21:40.700","freq":49.9948},
{"city":"Riga","time":"2025-04-28T12:21:41.000","freq":49.9964},
{"city":"Riga","time":"2025-04-28T12:21:41.200","freq":50.0037},
{"city":"Riga","time":"2025-04-28T12:21:41.500","freq":50.0062},
{"city":"Riga","time":"2025-04-28T12:21:42.000","freq":50.0057},
{"city":"Riga","time":"2025-04-28T12:21:42.300","freq":50.0036},
{"city":"Riga","time":"2025-04-28T12:21:42.500","freq":50.0024},
{"city":"Riga","time":"2025-04-28T12:21:42.800","freq":49.9951},
{"city":"Riga","time":"2025-04-28T12:21:43.000","freq":49.9898},
{"city":"Riga","time":"2025-04-28T12:21:43.200","freq":49.9858},
{"city":"Riga","time":"2025-04-28T12:21:43.400","freq":49.9789},
{"city":"Riga","time":"2025-04-28T12:21:43.500","freq":49.9784},
{"city":"Riga","time":"2025-04-28T12:21:44.000","freq":49.9756},
{"city":"Riga","time":"2025-04-28T12:21:44.290","freq":49.9756}
]},
"mark": {"type": "line", "strokeWidth": 1.5, "clip": true},
"encoding": {
  "x": {"field": "time", "type": "temporal", "title": "Time",
    "scale": {"domain": [{"year": 2025, "month": 4, "date": 28, "hours": 12, "minutes": 21, "seconds": 1, "milliseconds": 33}, {"year": 2025, "month": 4, "date": 28, "hours": 12, "minutes": 21, "seconds": 44, "milliseconds": 290}]},
    "axis": {"values": [{"year": 2025, "month": 4, "date": 28, "hours": 12, "minutes": 21, "seconds": 10}, {"year": 2025, "month": 4, "date": 28, "hours": 12, "minutes": 21, "seconds": 20}, {"year": 2025, "month": 4, "date": 28, "hours": 12, "minutes": 21, "seconds": 30}, {"year": 2025, "month": 4, "date": 28, "hours": 12, "minutes": 21, "seconds": 40}],
      "format": "%H:%M:%S", "labelBaseline": "alphabetic", "labelPadding": 68.7, "labelFlush": false, "labelOverlap": false,
      "titleFontSize": 35.5, "titleBaseline": "alphabetic", "titleY": 97}},
  "y": {"field": "freq", "type": "quantitative", "title": "Frequency (Hz)",
    "scale": {"domain": [49.9115, 50.1249], "nice": false, "zero": false},
    "axis": {"values": [49.92, 49.94, 49.96, 49.98, 50, 50.02, 50.04, 50.06, 50.08, 50.1, 50.12], "format": ".4~r",
      "labelPadding": 35.7, "labelOverlap": false, "labelFlush": false,
      "titleFontSize": 33, "titleBaseline": "alphabetic", "titleX": -125, "titleY": 419, "titleAlign": "center"}},
  "color": {"field": "city", "type": "nominal",
    "scale": {"domain": ["BelfortCedex", "Belgrad", "Bremen", "Malaga", "Porto", "Riga"], "range": ["#0072BD", "#D95319", "#EDB120", "#7E2F8E", "#77AC30", "#4DBEEE"]},
    "legend": {"title": null, "orient": "none", "legendX": 407, "legendY": 19, "direction": "horizontal",
      "symbolType": "M-1.8,0H8.4", "symbolSize": 400, "symbolStrokeWidth": 1.5,
      "labelFontSize": 30, "labelFont": "Liberation Sans", "labelColor": "#000000", "labelOffset": 80, "labelLimit": 0,
      "columnPadding": 20, "padding": 11, "strokeColor": "#262626", "fillColor": "#ffffff"}}
},
"config": {
  "view": {"stroke": null},
  "font": "Liberation Sans",
  "legend": {"strokeWidth": 1.3},
  "axis": {"domainColor": "#262626", "domainWidth": 1.5, "tickColor": "#262626", "tickWidth": 1.3, "tickSize": -19,
    "labelColor": "#262626", "labelFont": "Liberation Sans", "labelFontSize": 33,
    "titleColor": "#262626", "titleFont": "Liberation Sans", "titleFontWeight": "normal",
    "gridColor": "#dfdfdf", "gridWidth": 1, "grid": true}
}
}
